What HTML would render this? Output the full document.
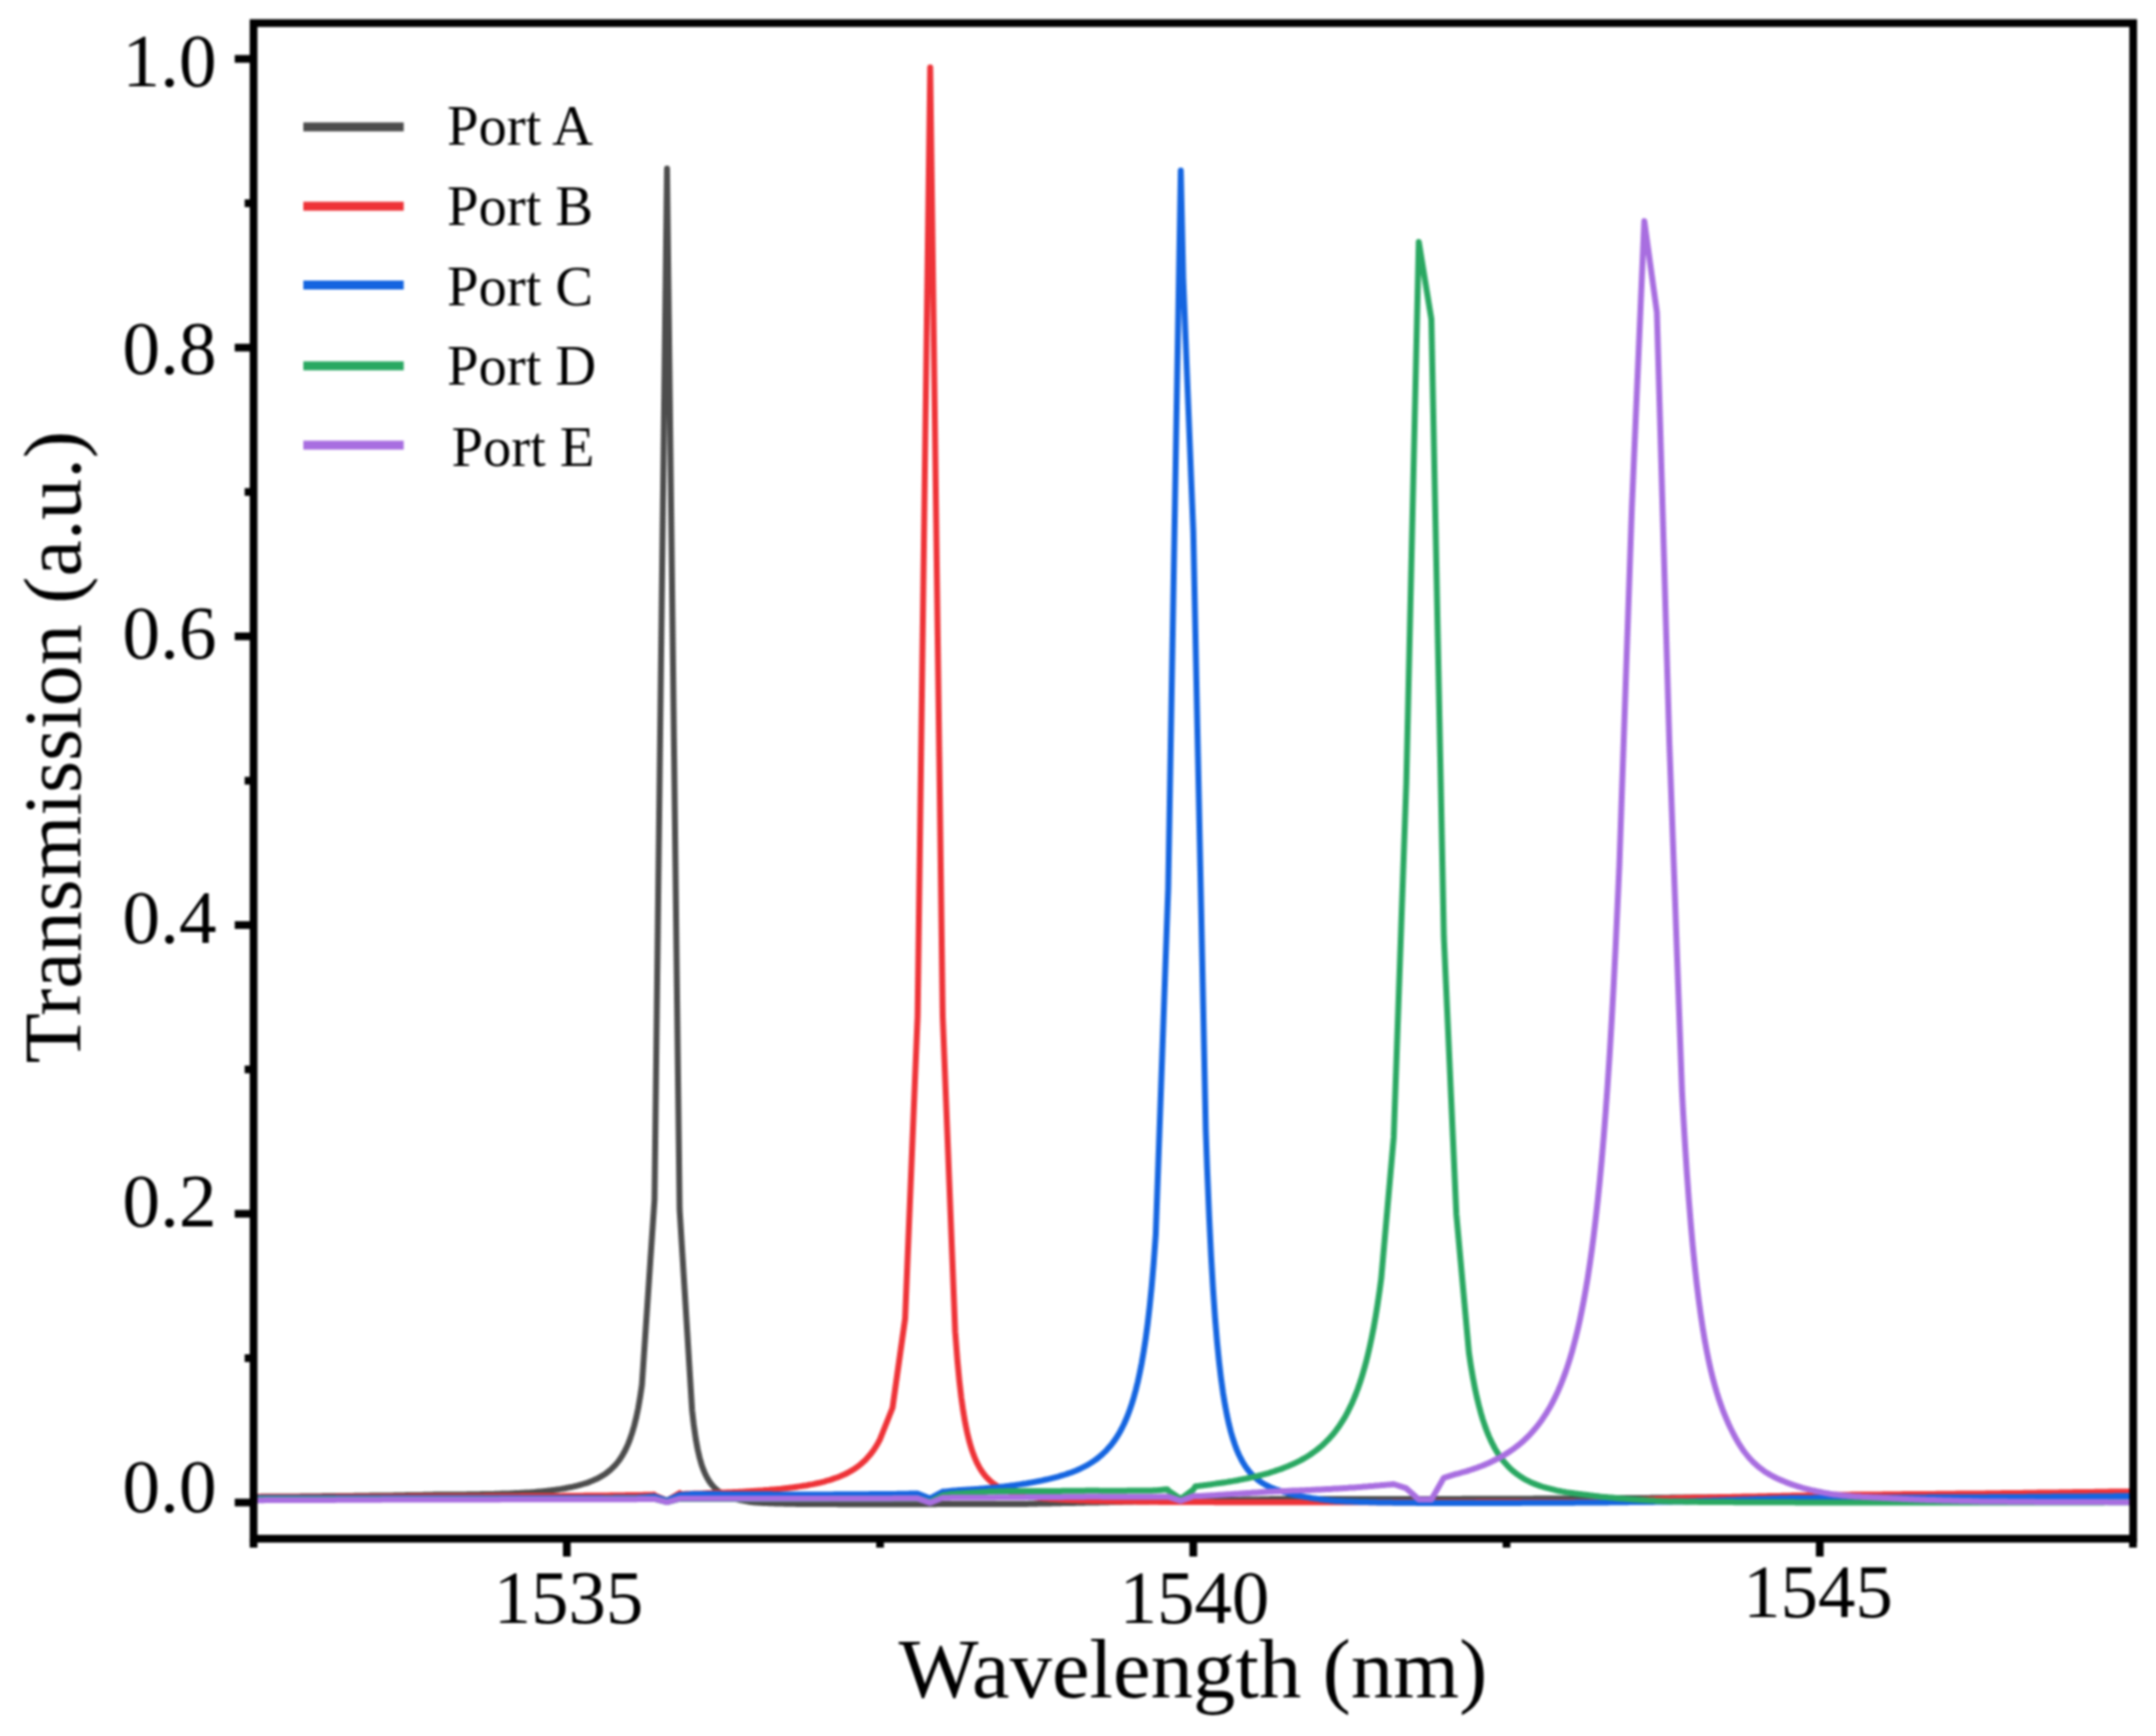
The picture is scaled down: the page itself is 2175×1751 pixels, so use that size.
<!DOCTYPE html>
<html><head><meta charset="utf-8"><style>
html,body{margin:0;padding:0;background:#fff;}
svg{display:block;}
#wrap{filter:blur(0.8px);width:2175px;height:1751px;}
text{font-family:"Liberation Serif","Times New Roman",serif;fill:#000;}
</style></head><body>
<div id="wrap"><svg width="2175" height="1751" viewBox="0 0 2175 1751" xmlns="http://www.w3.org/2000/svg">
<clipPath id="pc"><rect x="255.8" y="23.3" width="1896.2" height="1528.7"/></clipPath>
<g clip-path="url(#pc)" fill="none" stroke-width="6.0" stroke-linejoin="round" stroke-linecap="round">
<path d="M255.8,1509.7 L257.8,1509.7 L259.8,1509.7 L261.8,1509.7 L263.8,1509.6 L265.8,1509.6 L267.8,1509.6 L269.8,1509.6 L271.8,1509.6 L273.8,1509.6 L275.8,1509.6 L277.8,1509.5 L279.8,1509.5 L281.8,1509.5 L283.8,1509.5 L285.8,1509.5 L287.8,1509.5 L289.8,1509.4 L291.8,1509.4 L293.8,1509.4 L295.8,1509.4 L297.8,1509.4 L299.8,1509.4 L301.8,1509.4 L303.8,1509.3 L305.8,1509.3 L307.8,1509.3 L309.8,1509.3 L311.8,1509.3 L313.8,1509.3 L315.8,1509.2 L317.8,1509.2 L319.8,1509.2 L321.8,1509.2 L323.8,1509.2 L325.8,1509.1 L327.8,1509.1 L329.8,1509.1 L331.8,1509.1 L333.8,1509.1 L335.8,1509.1 L337.8,1509.0 L339.8,1509.0 L341.8,1509.0 L343.8,1509.0 L345.8,1509.0 L347.8,1508.9 L349.8,1508.9 L351.8,1508.9 L353.8,1508.9 L355.8,1508.9 L357.8,1508.8 L359.8,1508.8 L361.8,1508.8 L363.8,1508.8 L365.8,1508.7 L367.8,1508.7 L369.8,1508.7 L371.8,1508.7 L373.8,1508.6 L375.8,1508.6 L377.8,1508.6 L379.8,1508.6 L381.8,1508.5 L383.8,1508.5 L385.8,1508.5 L387.8,1508.5 L389.8,1508.4 L391.8,1508.4 L393.8,1508.4 L395.8,1508.4 L397.8,1508.3 L399.8,1508.3 L401.8,1508.3 L403.8,1508.2 L405.8,1508.2 L407.8,1508.2 L409.8,1508.1 L411.8,1508.1 L413.8,1508.1 L415.8,1508.1 L417.8,1508.0 L419.8,1508.0 L421.8,1507.9 L423.8,1507.9 L425.8,1507.9 L427.8,1507.8 L429.8,1507.8 L431.8,1507.8 L433.8,1507.7 L435.8,1507.7 L437.8,1507.6 L439.8,1507.6 L441.8,1507.6 L443.8,1507.6 L445.8,1507.6 L447.8,1507.6 L449.8,1507.6 L451.8,1507.5 L453.8,1507.5 L455.8,1507.5 L457.8,1507.5 L459.8,1507.5 L461.8,1507.5 L463.8,1507.4 L465.8,1507.4 L467.8,1507.4 L469.8,1507.4 L471.8,1507.3 L473.8,1507.3 L475.8,1507.3 L477.8,1507.3 L479.8,1507.2 L481.8,1507.2 L483.8,1507.2 L485.8,1507.1 L487.8,1507.1 L489.8,1507.0 L491.8,1507.0 L493.8,1507.0 L495.8,1506.9 L497.8,1506.9 L499.8,1506.8 L501.8,1506.8 L503.8,1506.7 L505.8,1506.6 L507.8,1506.6 L509.8,1506.5 L511.8,1506.4 L513.8,1506.4 L515.8,1506.3 L517.8,1506.2 L519.8,1506.1 L521.8,1506.0 L523.8,1505.9 L525.8,1505.8 L527.8,1505.7 L529.8,1505.6 L531.8,1505.5 L533.8,1505.4 L535.8,1505.3 L537.8,1505.2 L539.8,1505.0 L541.8,1504.8 L543.8,1504.6 L545.8,1504.4 L547.8,1504.2 L549.8,1504.0 L551.8,1503.8 L553.8,1503.5 L555.8,1503.3 L557.8,1503.0 L559.8,1502.8 L561.8,1502.5 L563.8,1502.2 L565.8,1501.9 L567.8,1501.5 L569.8,1501.2 L571.8,1500.8 L573.8,1500.4 L575.8,1500.0 L577.8,1499.6 L579.8,1499.1 L581.8,1498.7 L583.8,1498.2 L585.8,1497.6 L587.8,1497.0 L589.8,1496.4 L591.8,1495.8 L593.8,1495.1 L595.8,1494.3 L597.8,1493.5 L599.8,1492.6 L601.8,1491.7 L603.8,1490.7 L605.8,1489.6 L607.8,1488.4 L609.8,1487.2 L611.8,1485.8 L613.8,1484.2 L615.8,1482.6 L617.8,1480.7 L619.8,1478.7 L621.8,1476.5 L623.8,1474.0 L625.8,1471.2 L627.8,1468.1 L629.8,1464.6 L631.8,1460.6 L633.8,1456.1 L635.8,1450.9 L637.8,1444.9 L639.8,1438.0 L641.8,1430.0 L643.8,1420.5 L645.8,1409.1 L647.6,1396.7 L660.3,1210.0 L672.9,170.0 L685.6,1220.0 L698.2,1422.5 L699.8,1436.7 L701.8,1450.9 L703.8,1461.9 L705.8,1470.5 L707.8,1477.4 L709.8,1483.0 L711.8,1487.6 L713.8,1491.4 L715.8,1494.6 L717.8,1497.3 L719.8,1499.6 L721.8,1501.6 L723.8,1503.3 L725.8,1504.9 L727.8,1506.2 L729.8,1507.4 L731.8,1508.3 L733.8,1509.2 L735.8,1509.9 L737.8,1510.6 L739.8,1511.2 L741.8,1511.8 L743.8,1512.3 L745.8,1512.8 L747.8,1513.2 L749.8,1513.6 L751.8,1514.0 L753.8,1514.3 L755.8,1514.7 L757.8,1515.0 L759.8,1515.3 L761.8,1515.4 L763.8,1515.6 L765.8,1515.7 L767.8,1515.8 L769.8,1515.9 L771.8,1516.0 L773.8,1516.1 L775.8,1516.2 L777.8,1516.3 L779.8,1516.3 L781.8,1516.4 L783.8,1516.5 L785.8,1516.5 L787.8,1516.6 L789.8,1516.6 L791.8,1516.7 L793.8,1516.7 L795.8,1516.7 L797.8,1516.8 L799.8,1516.8 L801.8,1516.8 L803.8,1516.9 L805.8,1516.9 L807.8,1516.9 L809.8,1516.9 L811.8,1516.9 L813.8,1517.0 L815.8,1517.0 L817.8,1517.0 L819.8,1517.0 L821.8,1517.0 L823.8,1517.0 L825.8,1517.1 L827.8,1517.1 L829.8,1517.1 L831.8,1517.1 L833.8,1517.1 L835.8,1517.1 L837.8,1517.1 L839.8,1517.1 L841.8,1517.1 L843.8,1517.1 L845.8,1517.2 L847.8,1517.2 L849.8,1517.2 L851.8,1517.2 L853.8,1517.2 L855.8,1517.2 L857.8,1517.2 L859.8,1517.2 L861.8,1517.2 L863.8,1517.2 L865.8,1517.2 L867.8,1517.2 L869.8,1517.2 L871.8,1517.2 L873.8,1517.2 L875.8,1517.2 L877.8,1517.2 L879.8,1517.2 L881.8,1517.2 L883.8,1517.2 L885.8,1517.2 L887.8,1517.2 L889.8,1517.2 L891.8,1517.2 L893.8,1517.2 L895.8,1517.2 L897.8,1517.2 L899.8,1517.2 L901.8,1517.2 L903.8,1517.2 L905.8,1517.2 L907.8,1517.2 L909.8,1517.2 L911.8,1517.2 L913.8,1517.2 L915.8,1517.2 L917.8,1517.2 L919.8,1517.2 L921.8,1517.2 L923.8,1517.2 L925.8,1517.2 L927.8,1517.2 L929.8,1517.2 L931.8,1517.2 L933.8,1517.2 L935.8,1517.2 L937.8,1517.2 L939.8,1517.2 L941.8,1517.2 L943.8,1517.2 L945.8,1517.1 L947.8,1517.1 L949.8,1517.1 L951.8,1517.1 L953.8,1517.1 L955.8,1517.1 L957.8,1517.1 L959.8,1517.1 L961.8,1517.1 L963.8,1517.1 L965.8,1517.1 L967.8,1517.1 L969.8,1517.1 L971.8,1517.1 L973.8,1517.1 L975.8,1517.1 L977.8,1517.1 L979.8,1517.1 L981.8,1517.1 L983.8,1517.1 L985.8,1517.1 L987.8,1517.1 L989.8,1517.1 L991.8,1517.1 L993.8,1517.1 L995.8,1517.1 L997.8,1517.1 L999.8,1517.1 L1001.8,1517.1 L1003.8,1517.1 L1005.8,1517.0 L1007.8,1517.0 L1009.8,1517.0 L1011.8,1517.0 L1013.8,1517.0 L1015.8,1517.0 L1017.8,1517.0 L1019.8,1517.0 L1021.8,1517.0 L1023.8,1517.0 L1025.8,1517.0 L1027.8,1517.0 L1029.8,1517.0 L1031.8,1517.0 L1033.8,1516.9 L1035.8,1516.9 L1037.8,1516.8 L1039.8,1516.8 L1041.8,1516.8 L1043.8,1516.7 L1045.8,1516.7 L1047.8,1516.6 L1049.8,1516.6 L1051.8,1516.5 L1053.8,1516.5 L1055.8,1516.5 L1057.8,1516.4 L1059.8,1516.4 L1061.8,1516.3 L1063.8,1516.3 L1065.8,1516.3 L1067.8,1516.2 L1069.8,1516.2 L1071.8,1516.1 L1073.8,1516.1 L1075.8,1516.0 L1077.8,1516.0 L1079.8,1516.0 L1081.8,1515.9 L1083.8,1515.9 L1085.8,1515.8 L1087.8,1515.8 L1089.8,1515.8 L1091.8,1515.7 L1093.8,1515.7 L1095.8,1515.6 L1097.8,1515.6 L1099.8,1515.5 L1101.8,1515.5 L1103.8,1515.5 L1105.8,1515.4 L1107.8,1515.4 L1109.8,1515.3 L1111.8,1515.3 L1113.8,1515.3 L1115.8,1515.2 L1117.8,1515.2 L1119.8,1515.1 L1121.8,1515.1 L1123.8,1515.0 L1125.8,1515.0 L1127.8,1515.0 L1129.8,1514.9 L1131.8,1514.9 L1133.8,1514.8 L1135.8,1514.8 L1137.8,1514.8 L1139.8,1514.7 L1141.8,1514.7 L1143.8,1514.6 L1145.8,1514.6 L1147.8,1514.5 L1149.8,1514.5 L1151.8,1514.5 L1153.8,1514.4 L1155.8,1514.4 L1157.8,1514.4 L1159.8,1514.3 L1161.8,1514.3 L1163.8,1514.3 L1165.8,1514.2 L1167.8,1514.2 L1169.8,1514.1 L1171.8,1514.1 L1173.8,1514.1 L1175.8,1514.0 L1177.8,1514.0 L1179.8,1514.0 L1181.8,1513.9 L1183.8,1513.9 L1185.8,1513.9 L1187.8,1513.8 L1189.8,1513.8 L1191.8,1513.8 L1193.8,1513.7 L1195.8,1513.7 L1197.8,1513.6 L1199.8,1513.6 L1201.8,1513.6 L1203.8,1513.5 L1205.8,1513.5 L1207.8,1513.5 L1209.8,1513.4 L1211.8,1513.4 L1213.8,1513.4 L1215.8,1513.3 L1217.8,1513.3 L1219.8,1513.3 L1221.8,1513.2 L1223.8,1513.2 L1225.8,1513.1 L1227.8,1513.1 L1229.8,1513.1 L1231.8,1513.0 L1233.8,1513.0 L1235.8,1513.0 L1237.8,1512.9 L1239.8,1512.9 L1241.8,1512.9 L1243.8,1512.8 L1245.8,1512.8 L1247.8,1512.8 L1249.8,1512.7 L1251.8,1512.7 L1253.8,1512.6 L1255.8,1512.6 L1257.8,1512.6 L1259.8,1512.5 L1261.8,1512.5 L1263.8,1512.5 L1265.8,1512.4 L1267.8,1512.4 L1269.8,1512.4 L1271.8,1512.3 L1273.8,1512.3 L1275.8,1512.3 L1277.8,1512.2 L1279.8,1512.2 L1281.8,1512.1 L1283.8,1512.1 L1285.8,1512.1 L1287.8,1512.0 L1289.8,1512.0 L1291.8,1512.0 L1293.8,1512.0 L1295.8,1512.0 L1297.8,1512.0 L1299.8,1512.0 L1301.8,1512.0 L1303.8,1512.0 L1305.8,1512.0 L1307.8,1512.0 L1309.8,1512.0 L1311.8,1512.0 L1313.8,1512.0 L1315.8,1512.0 L1317.8,1512.0 L1319.8,1512.0 L1321.8,1512.0 L1323.8,1512.0 L1325.8,1512.0 L1327.8,1512.0 L1329.8,1512.0 L1331.8,1512.0 L1333.8,1512.0 L1335.8,1512.0 L1337.8,1512.0 L1339.8,1512.0 L1341.8,1512.0 L1343.8,1512.0 L1345.8,1512.0 L1347.8,1512.0 L1349.8,1512.0 L1351.8,1512.0 L1353.8,1512.0 L1355.8,1512.0 L1357.8,1512.0 L1359.8,1512.0 L1361.8,1512.0 L1363.8,1512.0 L1365.8,1512.0 L1367.8,1512.0 L1369.8,1512.0 L1371.8,1512.0 L1373.8,1512.0 L1375.8,1512.0 L1377.8,1512.0 L1379.8,1512.0 L1381.8,1512.0 L1383.8,1512.0 L1385.8,1512.0 L1387.8,1512.0 L1389.8,1512.0 L1391.8,1512.0 L1393.8,1512.0 L1395.8,1512.0 L1397.8,1512.0 L1399.8,1512.0 L1401.8,1512.0 L1403.8,1512.0 L1405.8,1512.0 L1407.8,1512.0 L1409.8,1512.0 L1411.8,1512.0 L1413.8,1512.0 L1415.8,1512.0 L1417.8,1512.0 L1419.8,1512.0 L1421.8,1512.0 L1423.8,1512.0 L1425.8,1512.0 L1427.8,1512.0 L1429.8,1512.0 L1431.8,1512.0 L1433.8,1512.0 L1435.8,1512.0 L1437.8,1512.0 L1439.8,1511.9 L1441.8,1511.9 L1443.8,1511.9 L1445.8,1511.9 L1447.8,1511.9 L1449.8,1511.9 L1451.8,1511.9 L1453.8,1511.9 L1455.8,1511.9 L1457.8,1511.9 L1459.8,1511.9 L1461.8,1511.9 L1463.8,1511.9 L1465.8,1511.9 L1467.8,1511.9 L1469.8,1511.9 L1471.8,1511.9 L1473.8,1511.9 L1475.8,1511.8 L1477.8,1511.8 L1479.8,1511.8 L1481.8,1511.8 L1483.8,1511.8 L1485.8,1511.8 L1487.8,1511.8 L1489.8,1511.8 L1491.8,1511.8 L1493.8,1511.8 L1495.8,1511.8 L1497.8,1511.8 L1499.8,1511.8 L1501.8,1511.8 L1503.8,1511.8 L1505.8,1511.8 L1507.8,1511.8 L1509.8,1511.8 L1511.8,1511.7 L1513.8,1511.7 L1515.8,1511.7 L1517.8,1511.7 L1519.8,1511.7 L1521.8,1511.7 L1523.8,1511.7 L1525.8,1511.7 L1527.8,1511.7 L1529.8,1511.7 L1531.8,1511.7 L1533.8,1511.7 L1535.8,1511.7 L1537.8,1511.7 L1539.8,1511.7 L1541.8,1511.7 L1543.8,1511.7 L1545.8,1511.7 L1547.8,1511.6 L1549.8,1511.6 L1551.8,1511.6 L1553.8,1511.6 L1555.8,1511.6 L1557.8,1511.6 L1559.8,1511.6 L1561.8,1511.6 L1563.8,1511.6 L1565.8,1511.6 L1567.8,1511.6 L1569.8,1511.6 L1571.8,1511.6 L1573.8,1511.6 L1575.8,1511.6 L1577.8,1511.6 L1579.8,1511.6 L1581.8,1511.6 L1583.8,1511.5 L1585.8,1511.5 L1587.8,1511.5 L1589.8,1511.5 L1591.8,1511.5 L1593.8,1511.5 L1595.8,1511.5 L1597.8,1511.5 L1599.8,1511.5 L1601.8,1511.5 L1603.8,1511.5 L1605.8,1511.4 L1607.8,1511.4 L1609.8,1511.4 L1611.8,1511.4 L1613.8,1511.4 L1615.8,1511.3 L1617.8,1511.3 L1619.8,1511.3 L1621.8,1511.3 L1623.8,1511.3 L1625.8,1511.2 L1627.8,1511.2 L1629.8,1511.2 L1631.8,1511.2 L1633.8,1511.2 L1635.8,1511.1 L1637.8,1511.1 L1639.8,1511.1 L1641.8,1511.1 L1643.8,1511.1 L1645.8,1511.0 L1647.8,1511.0 L1649.8,1511.0 L1651.8,1511.0 L1653.8,1511.0 L1655.8,1510.9 L1657.8,1510.9 L1659.8,1510.9 L1661.8,1510.9 L1663.8,1510.9 L1665.8,1510.8 L1667.8,1510.8 L1669.8,1510.8 L1671.8,1510.8 L1673.8,1510.8 L1675.8,1510.7 L1677.8,1510.7 L1679.8,1510.7 L1681.8,1510.7 L1683.8,1510.7 L1685.8,1510.6 L1687.8,1510.6 L1689.8,1510.6 L1691.8,1510.6 L1693.8,1510.6 L1695.8,1510.5 L1697.8,1510.5 L1699.8,1510.5 L1701.8,1510.5 L1703.8,1510.5 L1705.8,1510.5 L1707.8,1510.5 L1709.8,1510.5 L1711.8,1510.5 L1713.8,1510.5 L1715.8,1510.5 L1717.8,1510.4 L1719.8,1510.4 L1721.8,1510.4 L1723.8,1510.4 L1725.8,1510.4 L1727.8,1510.4 L1729.8,1510.4 L1731.8,1510.4 L1733.8,1510.4 L1735.8,1510.4 L1737.8,1510.4 L1739.8,1510.4 L1741.8,1510.4 L1743.8,1510.4 L1745.8,1510.4 L1747.8,1510.4 L1749.8,1510.4 L1751.8,1510.3 L1753.8,1510.3 L1755.8,1510.3 L1757.8,1510.3 L1759.8,1510.3 L1761.8,1510.3 L1763.8,1510.3 L1765.8,1510.3 L1767.8,1510.3 L1769.8,1510.3 L1771.8,1510.3 L1773.8,1510.3 L1775.8,1510.3 L1777.8,1510.3 L1779.8,1510.3 L1781.8,1510.3 L1783.8,1510.2 L1785.8,1510.2 L1787.8,1510.2 L1789.8,1510.2 L1791.8,1510.2 L1793.8,1510.2 L1795.8,1510.2 L1797.8,1510.2 L1799.8,1510.2 L1801.8,1510.2 L1803.8,1510.2 L1805.8,1510.2 L1807.8,1510.2 L1809.8,1510.2 L1811.8,1510.2 L1813.8,1510.2 L1815.8,1510.2 L1817.8,1510.1 L1819.8,1510.1 L1821.8,1510.1 L1823.8,1510.1 L1825.8,1510.1 L1827.8,1510.1 L1829.8,1510.1 L1831.8,1510.1 L1833.8,1510.1 L1835.8,1510.1 L1837.8,1510.1 L1839.8,1510.1 L1841.8,1510.1 L1843.8,1510.1 L1845.8,1510.1 L1847.8,1510.1 L1849.8,1510.1 L1851.8,1510.0 L1853.8,1510.0 L1855.8,1510.0 L1857.8,1510.0 L1859.8,1510.0 L1861.8,1510.0 L1863.8,1510.0 L1865.8,1510.0 L1867.8,1510.0 L1869.8,1510.0 L1871.8,1510.0 L1873.8,1510.0 L1875.8,1510.0 L1877.8,1510.0 L1879.8,1510.0 L1881.8,1510.0 L1883.8,1509.9 L1885.8,1509.9 L1887.8,1509.9 L1889.8,1509.9 L1891.8,1509.9 L1893.8,1509.9 L1895.8,1509.9 L1897.8,1509.9 L1899.8,1509.9 L1901.8,1509.9 L1903.8,1509.9 L1905.8,1509.9 L1907.8,1509.9 L1909.8,1509.9 L1911.8,1509.9 L1913.8,1509.9 L1915.8,1509.8 L1917.8,1509.8 L1919.8,1509.8 L1921.8,1509.8 L1923.8,1509.8 L1925.8,1509.8 L1927.8,1509.8 L1929.8,1509.8 L1931.8,1509.8 L1933.8,1509.8 L1935.8,1509.8 L1937.8,1509.8 L1939.8,1509.8 L1941.8,1509.8 L1943.8,1509.7 L1945.8,1509.7 L1947.8,1509.7 L1949.8,1509.7 L1951.8,1509.7 L1953.8,1509.7 L1955.8,1509.7 L1957.8,1509.7 L1959.8,1509.7 L1961.8,1509.7 L1963.8,1509.7 L1965.8,1509.7 L1967.8,1509.7 L1969.8,1509.7 L1971.8,1509.6 L1973.8,1509.6 L1975.8,1509.6 L1977.8,1509.6 L1979.8,1509.6 L1981.8,1509.6 L1983.8,1509.6 L1985.8,1509.6 L1987.8,1509.6 L1989.8,1509.6 L1991.8,1509.6 L1993.8,1509.6 L1995.8,1509.6 L1997.8,1509.6 L1999.8,1509.5 L2001.8,1509.5 L2003.8,1509.5 L2005.8,1509.5 L2007.8,1509.5 L2009.8,1509.5 L2011.8,1509.5 L2013.8,1509.5 L2015.8,1509.5 L2017.8,1509.5 L2019.8,1509.5 L2021.8,1509.5 L2023.8,1509.5 L2025.8,1509.5 L2027.8,1509.4 L2029.8,1509.4 L2031.8,1509.4 L2033.8,1509.4 L2035.8,1509.4 L2037.8,1509.4 L2039.8,1509.4 L2041.8,1509.4 L2043.8,1509.4 L2045.8,1509.4 L2047.8,1509.4 L2049.8,1509.4 L2051.8,1509.4 L2053.8,1509.4 L2055.8,1509.3 L2057.8,1509.3 L2059.8,1509.3 L2061.8,1509.3 L2063.8,1509.3 L2065.8,1509.3 L2067.8,1509.3 L2069.8,1509.3 L2071.8,1509.3 L2073.8,1509.3 L2075.8,1509.3 L2077.8,1509.3 L2079.8,1509.3 L2081.8,1509.3 L2083.8,1509.2 L2085.8,1509.2 L2087.8,1509.2 L2089.8,1509.2 L2091.8,1509.2 L2093.8,1509.2 L2095.8,1509.2 L2097.8,1509.2 L2099.8,1509.2 L2101.8,1509.2 L2103.8,1509.2 L2105.8,1509.2 L2107.8,1509.2 L2109.8,1509.2 L2111.8,1509.1 L2113.8,1509.1 L2115.8,1509.1 L2117.8,1509.1 L2119.8,1509.1 L2121.8,1509.1 L2123.8,1509.1 L2125.8,1509.1 L2127.8,1509.1 L2129.8,1509.1 L2131.8,1509.1 L2133.8,1509.1 L2135.8,1509.1 L2137.8,1509.1 L2139.8,1509.0 L2141.8,1509.0 L2143.8,1509.0 L2145.8,1509.0 L2147.8,1509.0 L2149.8,1509.0 L2151.8,1509.0" stroke="#4d4d4d"/>
<path d="M255.8,1510.0 L257.8,1510.0 L259.8,1510.0 L261.8,1510.0 L263.8,1510.0 L265.8,1510.0 L267.8,1510.0 L269.8,1510.0 L271.8,1510.0 L273.8,1510.0 L275.8,1510.0 L277.8,1510.0 L279.8,1510.0 L281.8,1510.0 L283.8,1510.0 L285.8,1510.0 L287.8,1509.9 L289.8,1509.9 L291.8,1509.9 L293.8,1509.9 L295.8,1509.9 L297.8,1509.9 L299.8,1509.9 L301.8,1509.9 L303.8,1509.9 L305.8,1509.9 L307.8,1509.9 L309.8,1509.9 L311.8,1509.9 L313.8,1509.9 L315.8,1509.9 L317.8,1509.9 L319.8,1509.9 L321.8,1509.9 L323.8,1509.9 L325.8,1509.9 L327.8,1509.9 L329.8,1509.9 L331.8,1509.9 L333.8,1509.9 L335.8,1509.9 L337.8,1509.9 L339.8,1509.8 L341.8,1509.8 L343.8,1509.8 L345.8,1509.8 L347.8,1509.8 L349.8,1509.8 L351.8,1509.8 L353.8,1509.8 L355.8,1509.8 L357.8,1509.8 L359.8,1509.8 L361.8,1509.8 L363.8,1509.8 L365.8,1509.8 L367.8,1509.8 L369.8,1509.8 L371.8,1509.8 L373.8,1509.8 L375.8,1509.8 L377.8,1509.8 L379.8,1509.7 L381.8,1509.7 L383.8,1509.7 L385.8,1509.7 L387.8,1509.7 L389.8,1509.7 L391.8,1509.7 L393.8,1509.7 L395.8,1509.7 L397.8,1509.7 L399.8,1509.7 L401.8,1509.7 L403.8,1509.7 L405.8,1509.7 L407.8,1509.7 L409.8,1509.7 L411.8,1509.7 L413.8,1509.6 L415.8,1509.6 L417.8,1509.6 L419.8,1509.6 L421.8,1509.6 L423.8,1509.6 L425.8,1509.6 L427.8,1509.6 L429.8,1509.6 L431.8,1509.6 L433.8,1509.6 L435.8,1509.6 L437.8,1509.6 L439.8,1509.6 L441.8,1509.6 L443.8,1509.5 L445.8,1509.5 L447.8,1509.5 L449.8,1509.5 L451.8,1509.5 L453.8,1509.5 L455.8,1509.5 L457.8,1509.5 L459.8,1509.5 L461.8,1509.5 L463.8,1509.5 L465.8,1509.5 L467.8,1509.4 L469.8,1509.4 L471.8,1509.4 L473.8,1509.4 L475.8,1509.4 L477.8,1509.4 L479.8,1509.4 L481.8,1509.4 L483.8,1509.4 L485.8,1509.4 L487.8,1509.4 L489.8,1509.3 L491.8,1509.3 L493.8,1509.3 L495.8,1509.3 L497.8,1509.3 L499.8,1509.3 L501.8,1509.3 L503.8,1509.3 L505.8,1509.3 L507.8,1509.3 L509.8,1509.2 L511.8,1509.2 L513.8,1509.2 L515.8,1509.2 L517.8,1509.2 L519.8,1509.2 L521.8,1509.2 L523.8,1509.2 L525.8,1509.1 L527.8,1509.1 L529.8,1509.1 L531.8,1509.1 L533.8,1509.1 L535.8,1509.1 L537.8,1509.1 L539.8,1509.1 L541.8,1509.0 L543.8,1509.0 L545.8,1509.0 L547.8,1509.0 L549.8,1509.0 L551.8,1509.0 L553.8,1508.9 L555.8,1508.9 L557.8,1508.9 L559.8,1508.9 L561.8,1508.9 L563.8,1508.9 L565.8,1508.9 L567.8,1508.8 L569.8,1508.8 L571.8,1508.8 L573.8,1508.8 L575.8,1508.8 L577.8,1508.7 L579.8,1508.7 L581.8,1508.7 L583.8,1508.7 L585.8,1508.7 L587.8,1508.7 L589.8,1508.6 L591.8,1508.6 L593.8,1508.6 L595.8,1508.6 L597.8,1508.5 L599.8,1508.5 L601.8,1508.5 L603.8,1508.5 L605.8,1508.5 L607.8,1508.4 L609.8,1508.4 L611.8,1508.4 L613.8,1508.4 L615.8,1508.3 L617.8,1508.3 L619.8,1508.3 L621.8,1508.3 L623.8,1508.2 L625.8,1508.2 L627.8,1508.2 L629.8,1508.2 L631.8,1508.1 L633.8,1508.1 L635.8,1508.1 L637.8,1508.0 L639.8,1508.0 L641.8,1508.0 L643.8,1507.9 L645.8,1507.9 L647.8,1507.9 L649.8,1507.8 L651.8,1507.8 L653.8,1507.7 L655.8,1507.7 L657.8,1507.7 L659.8,1507.6 L660.3,1508.3 L672.9,1513.5 L685.6,1506.0 L685.8,1507.0 L687.8,1507.0 L689.8,1506.9 L691.8,1506.8 L693.8,1506.8 L695.8,1506.7 L697.8,1506.7 L699.8,1506.6 L701.8,1506.5 L703.8,1506.5 L705.8,1506.4 L707.8,1506.4 L709.8,1506.3 L711.8,1506.2 L713.8,1506.1 L715.8,1506.1 L717.8,1506.0 L719.8,1505.9 L721.8,1505.8 L723.8,1505.8 L725.8,1505.7 L727.8,1505.6 L729.8,1505.5 L731.8,1505.4 L733.8,1505.3 L735.8,1505.3 L737.8,1505.2 L739.8,1505.1 L741.8,1505.0 L743.8,1504.9 L745.8,1504.8 L747.8,1504.7 L749.8,1504.6 L751.8,1504.4 L753.8,1504.3 L755.8,1504.2 L757.8,1504.1 L759.8,1504.0 L761.8,1503.8 L763.8,1503.7 L765.8,1503.5 L767.8,1503.4 L769.8,1503.3 L771.8,1503.1 L773.8,1502.9 L775.8,1502.8 L777.8,1502.6 L779.8,1502.4 L781.8,1502.2 L783.8,1502.1 L785.8,1501.9 L787.8,1501.7 L789.8,1501.4 L791.8,1501.2 L793.8,1501.0 L795.8,1500.8 L797.8,1500.5 L799.8,1500.3 L801.8,1500.0 L803.8,1499.7 L805.8,1499.4 L807.8,1499.1 L809.8,1498.8 L811.8,1498.5 L813.8,1498.2 L815.8,1497.8 L817.8,1497.4 L819.8,1497.1 L821.8,1496.6 L823.8,1496.2 L825.8,1495.8 L827.8,1495.3 L829.8,1494.8 L831.8,1494.3 L833.8,1493.7 L835.8,1493.2 L837.8,1492.6 L839.8,1491.9 L841.8,1491.2 L843.8,1490.5 L845.8,1489.8 L847.8,1489.0 L849.8,1488.1 L851.8,1487.2 L853.8,1486.2 L855.8,1485.2 L857.8,1484.1 L859.8,1482.9 L861.8,1481.7 L863.8,1480.3 L865.8,1478.8 L867.8,1477.3 L869.8,1475.6 L871.8,1473.8 L873.8,1471.8 L875.8,1469.6 L877.8,1467.3 L879.8,1464.7 L881.8,1461.9 L883.8,1458.8 L885.8,1455.4 L887.8,1451.7 L900.4,1420.0 L913.1,1330.0 L925.7,1025.0 L938.4,68.0 L951.0,1025.0 L963.6,1343.2 L963.8,1345.6 L965.8,1371.8 L967.8,1392.9 L969.8,1410.1 L971.8,1424.1 L973.8,1435.7 L975.8,1445.4 L977.8,1453.6 L979.8,1460.5 L981.8,1466.4 L983.8,1471.5 L985.8,1475.9 L987.8,1479.7 L989.8,1483.0 L991.8,1485.9 L993.8,1488.5 L995.8,1490.7 L997.8,1492.7 L999.8,1494.5 L1001.8,1496.1 L1003.8,1497.5 L1005.8,1498.8 L1007.8,1500.0 L1009.8,1501.1 L1011.8,1502.0 L1013.8,1502.9 L1015.8,1503.7 L1017.8,1504.5 L1019.8,1505.1 L1021.8,1505.8 L1023.8,1506.4 L1025.8,1506.9 L1027.8,1507.4 L1029.8,1507.9 L1031.8,1508.3 L1033.8,1508.7 L1035.8,1509.1 L1037.8,1509.4 L1039.8,1509.7 L1041.8,1510.0 L1043.8,1510.3 L1045.8,1510.5 L1047.8,1510.8 L1049.8,1511.0 L1051.8,1511.2 L1053.8,1511.4 L1055.8,1511.6 L1057.8,1511.7 L1059.8,1511.9 L1061.8,1512.0 L1063.8,1512.2 L1065.8,1512.3 L1067.8,1512.4 L1069.8,1512.6 L1071.8,1512.7 L1073.8,1512.8 L1075.8,1512.9 L1077.8,1513.0 L1079.8,1513.1 L1081.8,1513.2 L1083.8,1513.3 L1085.8,1513.3 L1087.8,1513.4 L1089.8,1513.5 L1091.8,1513.6 L1093.8,1513.6 L1095.8,1513.7 L1097.8,1513.7 L1099.8,1513.8 L1101.8,1513.9 L1103.8,1513.9 L1105.8,1514.0 L1107.8,1514.0 L1109.8,1514.1 L1111.8,1514.1 L1113.8,1514.1 L1115.8,1514.2 L1117.8,1514.2 L1119.8,1514.3 L1121.8,1514.3 L1123.8,1514.3 L1125.8,1514.4 L1127.8,1514.4 L1129.8,1514.4 L1131.8,1514.5 L1133.8,1514.5 L1135.8,1514.5 L1137.8,1514.5 L1139.8,1514.6 L1141.8,1514.6 L1143.8,1514.6 L1145.8,1514.6 L1147.8,1514.7 L1149.8,1514.7 L1151.8,1514.7 L1153.8,1514.7 L1155.8,1514.7 L1157.8,1514.8 L1159.8,1514.8 L1161.8,1514.8 L1163.8,1514.8 L1165.8,1514.8 L1167.8,1514.8 L1169.8,1514.9 L1171.8,1514.9 L1173.8,1514.9 L1175.8,1514.9 L1177.8,1514.9 L1179.8,1514.9 L1181.8,1514.9 L1183.8,1515.0 L1185.8,1515.0 L1187.8,1515.0 L1189.8,1515.0 L1191.8,1515.0 L1193.8,1515.0 L1195.8,1515.0 L1197.8,1515.0 L1199.8,1515.0 L1201.8,1515.1 L1203.8,1515.1 L1205.8,1515.1 L1207.8,1515.1 L1209.8,1515.1 L1211.8,1515.1 L1213.8,1515.1 L1215.8,1515.1 L1217.8,1515.1 L1219.8,1515.1 L1221.8,1515.1 L1223.8,1515.1 L1225.8,1515.2 L1227.8,1515.2 L1229.8,1515.2 L1231.8,1515.2 L1233.8,1515.2 L1235.8,1515.2 L1237.8,1515.2 L1239.8,1515.2 L1241.8,1515.2 L1243.8,1515.2 L1245.8,1515.2 L1247.8,1515.2 L1249.8,1515.2 L1251.8,1515.2 L1253.8,1515.2 L1255.8,1515.2 L1257.8,1515.2 L1259.8,1515.2 L1261.8,1515.2 L1263.8,1515.2 L1265.8,1515.2 L1267.8,1515.3 L1269.8,1515.3 L1271.8,1515.3 L1273.8,1515.3 L1275.8,1515.3 L1277.8,1515.3 L1279.8,1515.3 L1281.8,1515.3 L1283.8,1515.3 L1285.8,1515.3 L1287.8,1515.3 L1289.8,1515.3 L1291.8,1515.3 L1293.8,1515.3 L1295.8,1515.3 L1297.8,1515.3 L1299.8,1515.3 L1301.8,1515.3 L1303.8,1515.3 L1305.8,1515.3 L1307.8,1515.3 L1309.8,1515.3 L1311.8,1515.3 L1313.8,1515.3 L1315.8,1515.3 L1317.8,1515.3 L1319.8,1515.3 L1321.8,1515.3 L1323.8,1515.3 L1325.8,1515.3 L1327.8,1515.3 L1329.8,1515.3 L1331.8,1515.3 L1333.8,1515.3 L1335.8,1515.3 L1337.8,1515.3 L1339.8,1515.3 L1341.8,1515.3 L1343.8,1515.3 L1345.8,1515.3 L1347.8,1515.3 L1349.8,1515.3 L1351.8,1515.3 L1353.8,1515.3 L1355.8,1515.3 L1357.8,1515.3 L1359.8,1515.3 L1361.8,1515.3 L1363.8,1515.3 L1365.8,1515.3 L1367.8,1515.3 L1369.8,1515.3 L1371.8,1515.3 L1373.8,1515.3 L1375.8,1515.3 L1377.8,1515.3 L1379.8,1515.3 L1381.8,1515.3 L1383.8,1515.3 L1385.8,1515.3 L1387.8,1515.3 L1389.8,1515.3 L1391.8,1515.3 L1393.8,1515.3 L1395.8,1515.3 L1397.8,1515.3 L1399.8,1515.2 L1401.8,1515.2 L1403.8,1515.2 L1405.8,1515.2 L1407.8,1515.2 L1409.8,1515.2 L1411.8,1515.2 L1413.8,1515.2 L1415.8,1515.2 L1417.8,1515.2 L1419.8,1515.2 L1421.8,1515.2 L1423.8,1515.2 L1425.8,1515.2 L1427.8,1515.2 L1429.8,1515.2 L1431.8,1515.2 L1433.8,1515.2 L1435.8,1515.2 L1437.8,1515.2 L1439.8,1515.2 L1441.8,1515.2 L1443.8,1515.2 L1445.8,1515.2 L1447.8,1515.2 L1449.8,1515.2 L1451.8,1515.2 L1453.8,1515.2 L1455.8,1515.2 L1457.8,1515.2 L1459.8,1515.2 L1461.8,1515.2 L1463.8,1515.2 L1465.8,1515.2 L1467.8,1515.2 L1469.8,1515.2 L1471.8,1515.2 L1473.8,1515.2 L1475.8,1515.2 L1477.8,1515.2 L1479.8,1515.2 L1481.8,1515.2 L1483.8,1515.2 L1485.8,1515.2 L1487.8,1515.2 L1489.8,1515.1 L1491.8,1515.1 L1493.8,1515.1 L1495.8,1515.1 L1497.8,1515.1 L1499.8,1515.1 L1501.8,1515.1 L1503.8,1515.1 L1505.8,1515.1 L1507.8,1515.1 L1509.8,1515.1 L1511.8,1515.1 L1513.8,1515.1 L1515.8,1515.1 L1517.8,1515.1 L1519.8,1515.1 L1521.8,1515.1 L1523.8,1515.1 L1525.8,1515.1 L1527.8,1515.1 L1529.8,1515.1 L1531.8,1515.1 L1533.8,1515.1 L1535.8,1515.1 L1537.8,1515.1 L1539.8,1515.1 L1541.8,1515.1 L1543.8,1515.1 L1545.8,1515.1 L1547.8,1515.1 L1549.8,1515.1 L1551.8,1515.1 L1553.8,1515.1 L1555.8,1515.1 L1557.8,1515.1 L1559.8,1515.1 L1561.8,1515.1 L1563.8,1515.1 L1565.8,1515.0 L1567.8,1515.0 L1569.8,1515.0 L1571.8,1515.0 L1573.8,1515.0 L1575.8,1515.0 L1577.8,1515.0 L1579.8,1515.0 L1581.8,1515.0 L1583.8,1515.0 L1585.8,1515.0 L1587.8,1515.0 L1589.8,1515.0 L1591.8,1515.0 L1593.8,1515.0 L1595.8,1515.0 L1597.8,1515.0 L1599.8,1515.0 L1601.8,1514.9 L1603.8,1514.8 L1605.8,1514.8 L1607.8,1514.7 L1609.8,1514.6 L1611.8,1514.5 L1613.8,1514.4 L1615.8,1514.3 L1617.8,1514.3 L1619.8,1514.2 L1621.8,1514.1 L1623.8,1514.0 L1625.8,1513.9 L1627.8,1513.8 L1629.8,1513.7 L1631.8,1513.7 L1633.8,1513.6 L1635.8,1513.5 L1637.8,1513.4 L1639.8,1513.3 L1641.8,1513.2 L1643.8,1513.2 L1645.8,1513.1 L1647.8,1513.0 L1649.8,1512.9 L1651.8,1512.8 L1653.8,1512.7 L1655.8,1512.7 L1657.8,1512.6 L1659.8,1512.5 L1661.8,1512.4 L1663.8,1512.3 L1665.8,1512.2 L1667.8,1512.2 L1669.8,1512.1 L1671.8,1512.0 L1673.8,1511.9 L1675.8,1511.8 L1677.8,1511.7 L1679.8,1511.6 L1681.8,1511.6 L1683.8,1511.5 L1685.8,1511.4 L1687.8,1511.3 L1689.8,1511.2 L1691.8,1511.1 L1693.8,1511.1 L1695.8,1511.0 L1697.8,1510.9 L1699.8,1510.8 L1701.8,1510.8 L1703.8,1510.7 L1705.8,1510.7 L1707.8,1510.6 L1709.8,1510.6 L1711.8,1510.6 L1713.8,1510.5 L1715.8,1510.5 L1717.8,1510.4 L1719.8,1510.4 L1721.8,1510.4 L1723.8,1510.3 L1725.8,1510.3 L1727.8,1510.2 L1729.8,1510.2 L1731.8,1510.2 L1733.8,1510.1 L1735.8,1510.1 L1737.8,1510.0 L1739.8,1510.0 L1741.8,1510.0 L1743.8,1509.9 L1745.8,1509.9 L1747.8,1509.8 L1749.8,1509.8 L1751.8,1509.8 L1753.8,1509.7 L1755.8,1509.7 L1757.8,1509.6 L1759.8,1509.6 L1761.8,1509.6 L1763.8,1509.5 L1765.8,1509.5 L1767.8,1509.4 L1769.8,1509.4 L1771.8,1509.4 L1773.8,1509.3 L1775.8,1509.3 L1777.8,1509.2 L1779.8,1509.2 L1781.8,1509.2 L1783.8,1509.1 L1785.8,1509.1 L1787.8,1509.0 L1789.8,1509.0 L1791.8,1509.0 L1793.8,1508.9 L1795.8,1508.9 L1797.8,1508.8 L1799.8,1508.8 L1801.8,1508.8 L1803.8,1508.7 L1805.8,1508.7 L1807.8,1508.6 L1809.8,1508.6 L1811.8,1508.6 L1813.8,1508.5 L1815.8,1508.5 L1817.8,1508.4 L1819.8,1508.4 L1821.8,1508.4 L1823.8,1508.3 L1825.8,1508.3 L1827.8,1508.2 L1829.8,1508.2 L1831.8,1508.2 L1833.8,1508.1 L1835.8,1508.1 L1837.8,1508.0 L1839.8,1508.0 L1841.8,1508.0 L1843.8,1507.9 L1845.8,1507.9 L1847.8,1507.8 L1849.8,1507.8 L1851.8,1507.8 L1853.8,1507.8 L1855.8,1507.7 L1857.8,1507.7 L1859.8,1507.7 L1861.8,1507.7 L1863.8,1507.7 L1865.8,1507.7 L1867.8,1507.6 L1869.8,1507.6 L1871.8,1507.6 L1873.8,1507.6 L1875.8,1507.6 L1877.8,1507.5 L1879.8,1507.5 L1881.8,1507.5 L1883.8,1507.5 L1885.8,1507.5 L1887.8,1507.4 L1889.8,1507.4 L1891.8,1507.4 L1893.8,1507.4 L1895.8,1507.4 L1897.8,1507.4 L1899.8,1507.3 L1901.8,1507.3 L1903.8,1507.3 L1905.8,1507.3 L1907.8,1507.3 L1909.8,1507.2 L1911.8,1507.2 L1913.8,1507.2 L1915.8,1507.2 L1917.8,1507.2 L1919.8,1507.1 L1921.8,1507.1 L1923.8,1507.1 L1925.8,1507.1 L1927.8,1507.1 L1929.8,1507.1 L1931.8,1507.0 L1933.8,1507.0 L1935.8,1507.0 L1937.8,1507.0 L1939.8,1507.0 L1941.8,1506.9 L1943.8,1506.9 L1945.8,1506.9 L1947.8,1506.9 L1949.8,1506.9 L1951.8,1506.9 L1953.8,1506.8 L1955.8,1506.8 L1957.8,1506.8 L1959.8,1506.8 L1961.8,1506.8 L1963.8,1506.7 L1965.8,1506.7 L1967.8,1506.7 L1969.8,1506.7 L1971.8,1506.7 L1973.8,1506.6 L1975.8,1506.6 L1977.8,1506.6 L1979.8,1506.6 L1981.8,1506.6 L1983.8,1506.6 L1985.8,1506.5 L1987.8,1506.5 L1989.8,1506.5 L1991.8,1506.5 L1993.8,1506.5 L1995.8,1506.4 L1997.8,1506.4 L1999.8,1506.4 L2001.8,1506.4 L2003.8,1506.3 L2005.8,1506.3 L2007.8,1506.3 L2009.8,1506.3 L2011.8,1506.2 L2013.8,1506.2 L2015.8,1506.2 L2017.8,1506.2 L2019.8,1506.1 L2021.8,1506.1 L2023.8,1506.1 L2025.8,1506.0 L2027.8,1506.0 L2029.8,1506.0 L2031.8,1506.0 L2033.8,1505.9 L2035.8,1505.9 L2037.8,1505.9 L2039.8,1505.9 L2041.8,1505.8 L2043.8,1505.8 L2045.8,1505.8 L2047.8,1505.7 L2049.8,1505.7 L2051.8,1505.7 L2053.8,1505.7 L2055.8,1505.6 L2057.8,1505.6 L2059.8,1505.6 L2061.8,1505.5 L2063.8,1505.5 L2065.8,1505.5 L2067.8,1505.5 L2069.8,1505.4 L2071.8,1505.4 L2073.8,1505.4 L2075.8,1505.4 L2077.8,1505.3 L2079.8,1505.3 L2081.8,1505.3 L2083.8,1505.2 L2085.8,1505.2 L2087.8,1505.2 L2089.8,1505.2 L2091.8,1505.1 L2093.8,1505.1 L2095.8,1505.1 L2097.8,1505.0 L2099.8,1505.0 L2101.8,1505.0 L2103.8,1505.0 L2105.8,1504.9 L2107.8,1504.9 L2109.8,1504.9 L2111.8,1504.9 L2113.8,1504.8 L2115.8,1504.8 L2117.8,1504.8 L2119.8,1504.7 L2121.8,1504.7 L2123.8,1504.7 L2125.8,1504.7 L2127.8,1504.6 L2129.8,1504.6 L2131.8,1504.6 L2133.8,1504.6 L2135.8,1504.5 L2137.8,1504.5 L2139.8,1504.5 L2141.8,1504.4 L2143.8,1504.4 L2145.8,1504.4 L2147.8,1504.4 L2149.8,1504.3 L2151.8,1504.3" stroke="#ee3338"/>
<path d="M255.8,1511.0 L257.8,1511.0 L259.8,1511.0 L261.8,1511.0 L263.8,1511.0 L265.8,1511.0 L267.8,1511.0 L269.8,1511.0 L271.8,1511.0 L273.8,1511.0 L275.8,1511.0 L277.8,1511.0 L279.8,1511.0 L281.8,1511.0 L283.8,1511.0 L285.8,1511.0 L287.8,1511.0 L289.8,1511.0 L291.8,1511.0 L293.8,1511.0 L295.8,1511.0 L297.8,1511.0 L299.8,1511.0 L301.8,1511.0 L303.8,1511.0 L305.8,1511.0 L307.8,1511.0 L309.8,1511.0 L311.8,1511.0 L313.8,1511.0 L315.8,1511.0 L317.8,1511.0 L319.8,1511.0 L321.8,1511.0 L323.8,1511.0 L325.8,1511.0 L327.8,1511.0 L329.8,1511.0 L331.8,1511.0 L333.8,1511.0 L335.8,1511.0 L337.8,1511.0 L339.8,1511.0 L341.8,1511.0 L343.8,1511.0 L345.8,1511.0 L347.8,1511.0 L349.8,1511.0 L351.8,1511.0 L353.8,1511.0 L355.8,1511.0 L357.8,1511.0 L359.8,1511.0 L361.8,1511.0 L363.8,1511.0 L365.8,1511.0 L367.8,1511.0 L369.8,1511.0 L371.8,1511.0 L373.8,1511.0 L375.8,1511.0 L377.8,1511.0 L379.8,1511.0 L381.8,1511.0 L383.8,1511.0 L385.8,1511.0 L387.8,1511.0 L389.8,1511.0 L391.8,1511.0 L393.8,1511.0 L395.8,1511.0 L397.8,1511.0 L399.8,1511.0 L401.8,1511.0 L403.8,1511.0 L405.8,1511.0 L407.8,1511.0 L409.8,1511.0 L411.8,1511.0 L413.8,1511.0 L415.8,1511.0 L417.8,1511.0 L419.8,1511.0 L421.8,1511.0 L423.8,1511.0 L425.8,1511.0 L427.8,1511.0 L429.8,1511.0 L431.8,1511.0 L433.8,1511.0 L435.8,1511.0 L437.8,1511.0 L439.8,1511.0 L441.8,1511.0 L443.8,1511.0 L445.8,1511.0 L447.8,1511.0 L449.8,1511.0 L451.8,1511.0 L453.8,1511.0 L455.8,1511.0 L457.8,1511.0 L459.8,1511.0 L461.8,1511.0 L463.8,1511.0 L465.8,1511.0 L467.8,1511.0 L469.8,1511.0 L471.8,1511.0 L473.8,1511.0 L475.8,1511.0 L477.8,1511.0 L479.8,1511.0 L481.8,1511.0 L483.8,1511.0 L485.8,1511.0 L487.8,1511.0 L489.8,1511.0 L491.8,1511.0 L493.8,1511.0 L495.8,1511.0 L497.8,1511.0 L499.8,1511.0 L501.8,1511.0 L503.8,1511.0 L505.8,1511.0 L507.8,1511.0 L509.8,1511.0 L511.8,1511.0 L513.8,1511.0 L515.8,1511.0 L517.8,1511.0 L519.8,1511.0 L521.8,1511.0 L523.8,1511.0 L525.8,1511.0 L527.8,1511.0 L529.8,1511.0 L531.8,1511.0 L533.8,1511.0 L535.8,1511.0 L537.8,1511.0 L539.8,1511.0 L541.8,1511.0 L543.8,1511.0 L545.8,1511.0 L547.8,1511.0 L549.8,1511.0 L551.8,1511.0 L553.8,1511.0 L555.8,1511.0 L557.8,1511.0 L559.8,1511.0 L561.8,1511.0 L563.8,1510.9 L565.8,1510.9 L567.8,1510.9 L569.8,1510.9 L571.8,1510.9 L573.8,1510.9 L575.8,1510.9 L577.8,1510.9 L579.8,1510.9 L581.8,1510.9 L583.8,1510.9 L585.8,1510.9 L587.8,1510.9 L589.8,1510.9 L591.8,1510.9 L593.8,1510.9 L595.8,1510.9 L597.8,1510.9 L599.8,1510.9 L601.8,1510.9 L603.8,1510.9 L605.8,1510.9 L607.8,1510.9 L609.8,1510.9 L611.8,1510.9 L613.8,1510.9 L615.8,1510.9 L617.8,1510.9 L619.8,1510.8 L621.8,1510.8 L623.8,1510.8 L625.8,1510.8 L627.8,1510.8 L629.8,1510.8 L631.8,1510.8 L633.8,1510.8 L635.8,1510.8 L637.8,1510.8 L639.8,1510.8 L641.8,1510.7 L643.8,1510.6 L645.8,1510.4 L647.8,1510.3 L649.8,1510.2 L651.8,1510.1 L653.8,1509.9 L655.8,1509.8 L657.8,1509.7 L659.8,1509.6 L660.3,1509.5 L672.9,1513.5 L685.6,1507.9 L685.8,1507.9 L687.8,1507.8 L689.8,1507.7 L691.8,1507.5 L693.8,1507.4 L695.8,1507.3 L697.8,1507.1 L699.8,1507.0 L701.8,1507.0 L703.8,1507.0 L705.8,1507.0 L707.8,1507.0 L709.8,1507.1 L711.8,1507.1 L713.8,1507.1 L715.8,1507.1 L717.8,1507.1 L719.8,1507.1 L721.8,1507.1 L723.8,1507.1 L725.8,1507.1 L727.8,1507.2 L729.8,1507.2 L731.8,1507.2 L733.8,1507.2 L735.8,1507.2 L737.8,1507.2 L739.8,1507.2 L741.8,1507.2 L743.8,1507.2 L745.8,1507.2 L747.8,1507.2 L749.8,1507.3 L751.8,1507.3 L753.8,1507.3 L755.8,1507.3 L757.8,1507.3 L759.8,1507.3 L761.8,1507.3 L763.8,1507.3 L765.8,1507.3 L767.8,1507.3 L769.8,1507.3 L771.8,1507.3 L773.8,1507.3 L775.8,1507.3 L777.8,1507.3 L779.8,1507.4 L781.8,1507.4 L783.8,1507.4 L785.8,1507.4 L787.8,1507.4 L789.8,1507.4 L791.8,1507.4 L793.8,1507.4 L795.8,1507.4 L797.8,1507.4 L799.8,1507.4 L801.8,1507.4 L803.8,1507.4 L805.8,1507.4 L807.8,1507.4 L809.8,1507.4 L811.8,1507.4 L813.8,1507.4 L815.8,1507.4 L817.8,1507.4 L819.8,1507.4 L821.8,1507.4 L823.8,1507.4 L825.8,1507.4 L827.8,1507.4 L829.8,1507.4 L831.8,1507.4 L833.8,1507.4 L835.8,1507.4 L837.8,1507.4 L839.8,1507.4 L841.8,1507.3 L843.8,1507.3 L845.8,1507.3 L847.8,1507.3 L849.8,1507.3 L851.8,1507.3 L853.8,1507.3 L855.8,1507.3 L857.8,1507.3 L859.8,1507.3 L861.8,1507.3 L863.8,1507.2 L865.8,1507.2 L867.8,1507.2 L869.8,1507.2 L871.8,1507.2 L873.8,1507.2 L875.8,1507.2 L877.8,1507.1 L879.8,1507.1 L881.8,1507.1 L883.8,1507.1 L885.8,1507.1 L887.8,1507.1 L889.8,1507.0 L891.8,1507.0 L893.8,1507.0 L895.8,1507.0 L897.8,1506.9 L899.8,1506.9 L901.8,1506.9 L903.8,1506.9 L905.8,1506.8 L907.8,1506.8 L909.8,1506.8 L911.8,1506.7 L913.8,1506.7 L915.8,1506.7 L917.8,1506.6 L919.8,1506.6 L921.8,1506.6 L923.8,1506.5 L925.7,1506.5 L938.4,1511.5 L951.0,1504.6 L951.8,1504.5 L953.8,1504.4 L955.8,1504.2 L957.8,1504.0 L959.8,1503.8 L961.8,1503.6 L963.8,1503.4 L965.8,1503.2 L967.8,1503.0 L969.8,1502.9 L971.8,1502.8 L973.8,1502.7 L975.8,1502.5 L977.8,1502.4 L979.8,1502.3 L981.8,1502.2 L983.8,1502.0 L985.8,1501.9 L987.8,1501.7 L989.8,1501.6 L991.8,1501.5 L993.8,1501.3 L995.8,1501.1 L997.8,1501.0 L999.8,1500.8 L1001.8,1500.6 L1003.8,1500.4 L1005.8,1500.2 L1007.8,1500.0 L1009.8,1499.7 L1011.8,1499.5 L1013.8,1499.3 L1015.8,1499.0 L1017.8,1498.8 L1019.8,1498.5 L1021.8,1498.2 L1023.8,1498.0 L1025.8,1497.7 L1027.8,1497.4 L1029.8,1497.1 L1031.8,1496.8 L1033.8,1496.5 L1035.8,1496.2 L1037.8,1495.8 L1039.8,1495.5 L1041.8,1495.1 L1043.8,1494.8 L1045.8,1494.4 L1047.8,1494.0 L1049.8,1493.6 L1051.8,1493.2 L1053.8,1492.7 L1055.8,1492.3 L1057.8,1491.8 L1059.8,1491.3 L1061.8,1490.8 L1063.8,1490.3 L1065.8,1489.8 L1067.8,1489.3 L1069.8,1488.7 L1071.8,1488.1 L1073.8,1487.5 L1075.8,1486.9 L1077.8,1486.2 L1079.8,1485.5 L1081.8,1484.8 L1083.8,1484.0 L1085.8,1483.2 L1087.8,1482.3 L1089.8,1481.4 L1091.8,1480.4 L1093.8,1479.4 L1095.8,1478.4 L1097.8,1477.2 L1099.8,1476.0 L1101.8,1474.8 L1103.8,1473.4 L1105.8,1472.0 L1107.8,1470.5 L1109.8,1468.8 L1111.8,1467.1 L1113.8,1465.2 L1115.8,1463.3 L1117.8,1461.1 L1119.8,1458.8 L1121.8,1456.3 L1123.8,1453.7 L1125.8,1450.8 L1127.8,1447.7 L1129.8,1444.2 L1131.8,1440.5 L1133.8,1436.5 L1135.8,1432.1 L1137.8,1427.2 L1139.8,1421.8 L1141.8,1415.9 L1143.8,1409.3 L1145.8,1402.0 L1147.8,1393.9 L1149.8,1384.7 L1151.8,1374.6 L1153.8,1363.1 L1155.8,1350.0 L1157.8,1335.0 L1159.8,1317.7 L1161.8,1297.7 L1163.8,1274.3 L1165.8,1247.0 L1165.9,1245.8 L1178.5,895.6 L1191.2,172.0 L1193.6,280.0 L1203.8,536.2 L1216.4,1139.9 L1217.8,1178.3 L1219.8,1226.8 L1221.8,1267.3 L1223.8,1301.1 L1225.8,1329.5 L1227.8,1353.3 L1229.8,1373.4 L1231.8,1390.3 L1233.8,1404.7 L1235.8,1416.9 L1237.8,1427.5 L1239.8,1436.6 L1241.8,1444.5 L1243.8,1451.3 L1245.8,1457.3 L1247.8,1462.6 L1249.8,1467.2 L1251.8,1471.3 L1253.8,1475.0 L1255.8,1478.2 L1257.8,1481.1 L1259.8,1483.7 L1261.8,1486.0 L1263.8,1488.1 L1265.8,1490.0 L1267.8,1491.7 L1269.8,1493.3 L1271.8,1494.7 L1273.8,1496.0 L1275.8,1497.2 L1277.8,1498.3 L1279.8,1499.3 L1281.8,1500.2 L1283.8,1501.0 L1285.8,1501.8 L1287.8,1502.5 L1289.8,1503.2 L1291.8,1503.9 L1293.8,1504.5 L1295.8,1505.2 L1297.8,1505.7 L1299.8,1506.3 L1301.8,1506.8 L1303.8,1507.3 L1305.8,1507.8 L1307.8,1508.2 L1309.8,1508.6 L1311.8,1509.0 L1313.8,1509.4 L1315.8,1509.8 L1317.8,1510.1 L1319.8,1510.4 L1321.8,1510.8 L1323.8,1511.1 L1325.8,1511.4 L1327.8,1511.6 L1329.8,1511.9 L1331.8,1512.2 L1333.8,1512.4 L1335.8,1512.7 L1337.8,1512.9 L1339.8,1513.1 L1341.8,1513.4 L1343.8,1513.6 L1345.8,1513.7 L1347.8,1513.9 L1349.8,1514.0 L1351.8,1514.1 L1353.8,1514.2 L1355.8,1514.3 L1357.8,1514.4 L1359.8,1514.4 L1361.8,1514.5 L1363.8,1514.6 L1365.8,1514.7 L1367.8,1514.8 L1369.8,1514.8 L1371.8,1514.9 L1373.8,1515.0 L1375.8,1515.0 L1377.8,1515.1 L1379.8,1515.1 L1381.8,1515.2 L1383.8,1515.2 L1385.8,1515.3 L1387.8,1515.3 L1389.8,1515.4 L1391.8,1515.4 L1393.8,1515.5 L1395.8,1515.5 L1397.8,1515.6 L1399.8,1515.6 L1401.8,1515.6 L1403.8,1515.6 L1405.8,1515.7 L1407.8,1515.7 L1409.8,1515.7 L1411.8,1515.7 L1413.8,1515.7 L1415.8,1515.8 L1417.8,1515.8 L1419.8,1515.8 L1421.8,1515.8 L1423.8,1515.8 L1425.8,1515.8 L1427.8,1515.8 L1429.8,1515.9 L1431.8,1515.9 L1433.8,1515.9 L1435.8,1515.9 L1437.8,1515.9 L1439.8,1515.9 L1441.8,1515.9 L1443.8,1515.9 L1445.8,1515.9 L1447.8,1515.9 L1449.8,1515.9 L1451.8,1515.9 L1453.8,1515.9 L1455.8,1515.9 L1457.8,1515.9 L1459.8,1516.0 L1461.8,1516.0 L1463.8,1516.0 L1465.8,1516.0 L1467.8,1516.0 L1469.8,1516.0 L1471.8,1516.0 L1473.8,1516.0 L1475.8,1516.0 L1477.8,1516.0 L1479.8,1516.0 L1481.8,1516.0 L1483.8,1516.0 L1485.8,1516.0 L1487.8,1516.0 L1489.8,1516.0 L1491.8,1515.9 L1493.8,1515.9 L1495.8,1515.9 L1497.8,1515.9 L1499.8,1515.9 L1501.8,1515.9 L1503.8,1515.9 L1505.8,1515.9 L1507.8,1515.9 L1509.8,1515.9 L1511.8,1515.9 L1513.8,1515.9 L1515.8,1515.9 L1517.8,1515.9 L1519.8,1515.9 L1521.8,1515.9 L1523.8,1515.9 L1525.8,1515.9 L1527.8,1515.9 L1529.8,1515.9 L1531.8,1515.9 L1533.8,1515.9 L1535.8,1515.8 L1537.8,1515.8 L1539.8,1515.8 L1541.8,1515.8 L1543.8,1515.8 L1545.8,1515.8 L1547.8,1515.8 L1549.8,1515.8 L1551.8,1515.8 L1553.8,1515.8 L1555.8,1515.8 L1557.8,1515.8 L1559.8,1515.8 L1561.8,1515.8 L1563.8,1515.8 L1565.8,1515.7 L1567.8,1515.7 L1569.8,1515.7 L1571.8,1515.7 L1573.8,1515.7 L1575.8,1515.7 L1577.8,1515.7 L1579.8,1515.7 L1581.8,1515.7 L1583.8,1515.7 L1585.8,1515.7 L1587.8,1515.7 L1589.8,1515.6 L1591.8,1515.6 L1593.8,1515.6 L1595.8,1515.6 L1597.8,1515.6 L1599.8,1515.6 L1601.8,1515.6 L1603.8,1515.6 L1605.8,1515.5 L1607.8,1515.5 L1609.8,1515.5 L1611.8,1515.5 L1613.8,1515.5 L1615.8,1515.4 L1617.8,1515.4 L1619.8,1515.4 L1621.8,1515.4 L1623.8,1515.3 L1625.8,1515.3 L1627.8,1515.3 L1629.8,1515.3 L1631.8,1515.3 L1633.8,1515.2 L1635.8,1515.2 L1637.8,1515.2 L1639.8,1515.2 L1641.8,1515.2 L1643.8,1515.1 L1645.8,1515.1 L1647.8,1515.1 L1649.8,1515.1 L1651.8,1515.0 L1653.8,1515.0 L1655.8,1515.0 L1657.8,1515.0 L1659.8,1515.0 L1661.8,1514.9 L1663.8,1514.9 L1665.8,1514.9 L1667.8,1514.9 L1669.8,1514.8 L1671.8,1514.8 L1673.8,1514.8 L1675.8,1514.8 L1677.8,1514.8 L1679.8,1514.7 L1681.8,1514.7 L1683.8,1514.7 L1685.8,1514.7 L1687.8,1514.6 L1689.8,1514.6 L1691.8,1514.6 L1693.8,1514.6 L1695.8,1514.5 L1697.8,1514.5 L1699.8,1514.5 L1701.8,1514.4 L1703.8,1514.4 L1705.8,1514.3 L1707.8,1514.2 L1709.8,1514.2 L1711.8,1514.1 L1713.8,1514.0 L1715.8,1514.0 L1717.8,1513.9 L1719.8,1513.8 L1721.8,1513.8 L1723.8,1513.7 L1725.8,1513.7 L1727.8,1513.6 L1729.8,1513.5 L1731.8,1513.5 L1733.8,1513.4 L1735.8,1513.3 L1737.8,1513.3 L1739.8,1513.2 L1741.8,1513.1 L1743.8,1513.1 L1745.8,1513.0 L1747.8,1512.9 L1749.8,1512.9 L1751.8,1512.8 L1753.8,1512.7 L1755.8,1512.7 L1757.8,1512.6 L1759.8,1512.5 L1761.8,1512.5 L1763.8,1512.4 L1765.8,1512.3 L1767.8,1512.3 L1769.8,1512.2 L1771.8,1512.1 L1773.8,1512.1 L1775.8,1512.0 L1777.8,1511.9 L1779.8,1511.9 L1781.8,1511.8 L1783.8,1511.7 L1785.8,1511.7 L1787.8,1511.6 L1789.8,1511.5 L1791.8,1511.5 L1793.8,1511.4 L1795.8,1511.3 L1797.8,1511.3 L1799.8,1511.2 L1801.8,1511.2 L1803.8,1511.2 L1805.8,1511.1 L1807.8,1511.1 L1809.8,1511.1 L1811.8,1511.1 L1813.8,1511.0 L1815.8,1511.0 L1817.8,1511.0 L1819.8,1511.0 L1821.8,1510.9 L1823.8,1510.9 L1825.8,1510.9 L1827.8,1510.9 L1829.8,1510.8 L1831.8,1510.8 L1833.8,1510.8 L1835.8,1510.8 L1837.8,1510.7 L1839.8,1510.7 L1841.8,1510.7 L1843.8,1510.7 L1845.8,1510.7 L1847.8,1510.6 L1849.8,1510.6 L1851.8,1510.6 L1853.8,1510.6 L1855.8,1510.6 L1857.8,1510.6 L1859.8,1510.6 L1861.8,1510.6 L1863.8,1510.6 L1865.8,1510.6 L1867.8,1510.6 L1869.8,1510.5 L1871.8,1510.5 L1873.8,1510.5 L1875.8,1510.5 L1877.8,1510.5 L1879.8,1510.5 L1881.8,1510.5 L1883.8,1510.5 L1885.8,1510.5 L1887.8,1510.5 L1889.8,1510.5 L1891.8,1510.5 L1893.8,1510.5 L1895.8,1510.5 L1897.8,1510.5 L1899.8,1510.5 L1901.8,1510.5 L1903.8,1510.5 L1905.8,1510.5 L1907.8,1510.4 L1909.8,1510.4 L1911.8,1510.4 L1913.8,1510.4 L1915.8,1510.4 L1917.8,1510.4 L1919.8,1510.4 L1921.8,1510.4 L1923.8,1510.4 L1925.8,1510.4 L1927.8,1510.4 L1929.8,1510.4 L1931.8,1510.4 L1933.8,1510.4 L1935.8,1510.4 L1937.8,1510.4 L1939.8,1510.4 L1941.8,1510.4 L1943.8,1510.4 L1945.8,1510.3 L1947.8,1510.3 L1949.8,1510.3 L1951.8,1510.3 L1953.8,1510.3 L1955.8,1510.3 L1957.8,1510.3 L1959.8,1510.3 L1961.8,1510.3 L1963.8,1510.3 L1965.8,1510.3 L1967.8,1510.3 L1969.8,1510.3 L1971.8,1510.3 L1973.8,1510.3 L1975.8,1510.3 L1977.8,1510.3 L1979.8,1510.3 L1981.8,1510.2 L1983.8,1510.2 L1985.8,1510.2 L1987.8,1510.2 L1989.8,1510.2 L1991.8,1510.2 L1993.8,1510.2 L1995.8,1510.2 L1997.8,1510.2 L1999.8,1510.2 L2001.8,1510.2 L2003.8,1510.2 L2005.8,1510.2 L2007.8,1510.1 L2009.8,1510.1 L2011.8,1510.1 L2013.8,1510.1 L2015.8,1510.1 L2017.8,1510.1 L2019.8,1510.0 L2021.8,1510.0 L2023.8,1510.0 L2025.8,1510.0 L2027.8,1510.0 L2029.8,1510.0 L2031.8,1509.9 L2033.8,1509.9 L2035.8,1509.9 L2037.8,1509.9 L2039.8,1509.9 L2041.8,1509.9 L2043.8,1509.9 L2045.8,1509.8 L2047.8,1509.8 L2049.8,1509.8 L2051.8,1509.8 L2053.8,1509.8 L2055.8,1509.8 L2057.8,1509.7 L2059.8,1509.7 L2061.8,1509.7 L2063.8,1509.7 L2065.8,1509.7 L2067.8,1509.7 L2069.8,1509.6 L2071.8,1509.6 L2073.8,1509.6 L2075.8,1509.6 L2077.8,1509.6 L2079.8,1509.6 L2081.8,1509.6 L2083.8,1509.5 L2085.8,1509.5 L2087.8,1509.5 L2089.8,1509.5 L2091.8,1509.5 L2093.8,1509.5 L2095.8,1509.4 L2097.8,1509.4 L2099.8,1509.4 L2101.8,1509.4 L2103.8,1509.4 L2105.8,1509.4 L2107.8,1509.3 L2109.8,1509.3 L2111.8,1509.3 L2113.8,1509.3 L2115.8,1509.3 L2117.8,1509.3 L2119.8,1509.3 L2121.8,1509.2 L2123.8,1509.2 L2125.8,1509.2 L2127.8,1509.2 L2129.8,1509.2 L2131.8,1509.2 L2133.8,1509.1 L2135.8,1509.1 L2137.8,1509.1 L2139.8,1509.1 L2141.8,1509.1 L2143.8,1509.1 L2145.8,1509.0 L2147.8,1509.0 L2149.8,1509.0 L2151.8,1509.0" stroke="#1565e0"/>
<path d="M255.8,1512.0 L257.8,1512.0 L259.8,1512.0 L261.8,1512.0 L263.8,1512.0 L265.8,1512.0 L267.8,1512.0 L269.8,1512.0 L271.8,1512.0 L273.8,1512.0 L275.8,1512.0 L277.8,1512.0 L279.8,1512.0 L281.8,1512.0 L283.8,1512.0 L285.8,1512.0 L287.8,1512.0 L289.8,1512.0 L291.8,1512.0 L293.8,1512.0 L295.8,1512.0 L297.8,1512.0 L299.8,1512.0 L301.8,1512.0 L303.8,1512.0 L305.8,1512.0 L307.8,1512.0 L309.8,1512.0 L311.8,1512.0 L313.8,1512.0 L315.8,1512.0 L317.8,1512.0 L319.8,1512.0 L321.8,1512.0 L323.8,1512.0 L325.8,1512.0 L327.8,1512.0 L329.8,1512.0 L331.8,1512.0 L333.8,1512.0 L335.8,1512.0 L337.8,1512.0 L339.8,1512.0 L341.8,1512.0 L343.8,1512.0 L345.8,1512.0 L347.8,1512.0 L349.8,1512.0 L351.8,1512.0 L353.8,1512.0 L355.8,1512.0 L357.8,1512.0 L359.8,1512.0 L361.8,1512.0 L363.8,1512.0 L365.8,1512.0 L367.8,1512.0 L369.8,1512.0 L371.8,1512.0 L373.8,1512.0 L375.8,1512.0 L377.8,1512.0 L379.8,1512.0 L381.8,1512.0 L383.8,1512.0 L385.8,1512.0 L387.8,1512.0 L389.8,1512.0 L391.8,1512.0 L393.8,1512.0 L395.8,1512.0 L397.8,1512.0 L399.8,1512.0 L401.8,1512.0 L403.8,1512.0 L405.8,1512.0 L407.8,1512.0 L409.8,1512.0 L411.8,1512.0 L413.8,1512.0 L415.8,1512.0 L417.8,1512.0 L419.8,1512.0 L421.8,1512.0 L423.8,1512.0 L425.8,1512.0 L427.8,1512.0 L429.8,1512.0 L431.8,1512.0 L433.8,1512.0 L435.8,1512.0 L437.8,1512.0 L439.8,1512.0 L441.8,1512.0 L443.8,1512.0 L445.8,1512.0 L447.8,1512.0 L449.8,1512.0 L451.8,1512.0 L453.8,1512.0 L455.8,1512.0 L457.8,1512.0 L459.8,1512.0 L461.8,1512.0 L463.8,1512.0 L465.8,1512.0 L467.8,1512.0 L469.8,1512.0 L471.8,1512.0 L473.8,1512.0 L475.8,1512.0 L477.8,1512.0 L479.8,1512.0 L481.8,1512.0 L483.8,1512.0 L485.8,1512.0 L487.8,1512.0 L489.8,1512.0 L491.8,1512.0 L493.8,1512.0 L495.8,1512.0 L497.8,1512.0 L499.8,1512.0 L501.8,1512.0 L503.8,1512.0 L505.8,1512.0 L507.8,1512.0 L509.8,1512.0 L511.8,1512.0 L513.8,1512.0 L515.8,1512.0 L517.8,1512.0 L519.8,1512.0 L521.8,1511.9 L523.8,1511.9 L525.8,1511.9 L527.8,1511.9 L529.8,1511.9 L531.8,1511.9 L533.8,1511.9 L535.8,1511.9 L537.8,1511.9 L539.8,1511.9 L541.8,1511.9 L543.8,1511.9 L545.8,1511.9 L547.8,1511.9 L549.8,1511.9 L551.8,1511.9 L553.8,1511.9 L555.8,1511.9 L557.8,1511.9 L559.8,1511.9 L561.8,1511.9 L563.8,1511.9 L565.8,1511.9 L567.8,1511.9 L569.8,1511.9 L571.8,1511.9 L573.8,1511.9 L575.8,1511.9 L577.8,1511.9 L579.8,1511.9 L581.8,1511.9 L583.8,1511.9 L585.8,1511.9 L587.8,1511.9 L589.8,1511.9 L591.8,1511.9 L593.8,1511.9 L595.8,1511.9 L597.8,1511.9 L599.8,1511.9 L601.8,1511.9 L603.8,1511.9 L605.8,1511.9 L607.8,1511.9 L609.8,1511.8 L611.8,1511.8 L613.8,1511.8 L615.8,1511.8 L617.8,1511.8 L619.8,1511.8 L621.8,1511.8 L623.8,1511.8 L625.8,1511.8 L627.8,1511.8 L629.8,1511.8 L631.8,1511.8 L633.8,1511.8 L635.8,1511.8 L637.8,1511.8 L639.8,1511.8 L641.8,1511.8 L643.8,1511.8 L645.8,1511.8 L647.8,1511.8 L649.8,1511.8 L651.8,1511.8 L653.8,1511.8 L655.8,1511.8 L657.8,1511.8 L659.8,1511.8 L660.3,1511.8 L672.9,1515.0 L685.6,1511.9 L685.8,1511.9 L687.8,1511.9 L689.8,1511.9 L691.8,1511.9 L693.8,1511.9 L695.8,1511.9 L697.8,1511.9 L699.8,1511.9 L701.8,1511.9 L703.8,1511.9 L705.8,1511.9 L707.8,1511.9 L709.8,1511.9 L711.8,1511.9 L713.8,1511.9 L715.8,1511.9 L717.8,1511.9 L719.8,1511.9 L721.8,1511.9 L723.8,1511.9 L725.8,1511.9 L727.8,1511.9 L729.8,1511.9 L731.8,1511.9 L733.8,1511.9 L735.8,1511.9 L737.8,1511.9 L739.8,1511.9 L741.8,1511.9 L743.8,1511.9 L745.8,1511.9 L747.8,1511.9 L749.8,1511.9 L751.8,1511.9 L753.8,1511.9 L755.8,1511.9 L757.8,1511.9 L759.8,1511.9 L761.8,1511.9 L763.8,1511.9 L765.8,1511.9 L767.8,1511.9 L769.8,1511.9 L771.8,1511.9 L773.8,1511.9 L775.8,1511.9 L777.8,1511.9 L779.8,1511.9 L781.8,1511.9 L783.8,1511.9 L785.8,1511.9 L787.8,1511.9 L789.8,1511.9 L791.8,1511.9 L793.8,1511.9 L795.8,1511.9 L797.8,1511.9 L799.8,1511.9 L801.8,1511.9 L803.8,1511.9 L805.8,1511.9 L807.8,1511.9 L809.8,1511.9 L811.8,1511.9 L813.8,1511.9 L815.8,1511.9 L817.8,1511.9 L819.8,1511.9 L821.8,1511.9 L823.8,1511.9 L825.8,1511.9 L827.8,1511.9 L829.8,1511.9 L831.8,1511.9 L833.8,1511.9 L835.8,1511.9 L837.8,1511.8 L839.8,1511.8 L841.8,1511.8 L843.8,1511.8 L845.8,1511.8 L847.8,1511.8 L849.8,1511.8 L851.8,1511.8 L853.8,1511.8 L855.8,1511.8 L857.8,1511.8 L859.8,1511.8 L861.8,1511.8 L863.8,1511.8 L865.8,1511.8 L867.8,1511.8 L869.8,1511.8 L871.8,1511.8 L873.8,1511.8 L875.8,1511.7 L877.8,1511.7 L879.8,1511.7 L881.8,1511.7 L883.8,1511.7 L885.8,1511.7 L887.8,1511.7 L889.8,1511.7 L891.8,1511.7 L893.8,1511.7 L895.8,1511.7 L897.8,1511.7 L899.8,1511.7 L901.8,1511.6 L903.8,1511.6 L905.8,1511.6 L907.8,1511.6 L909.8,1511.6 L911.8,1511.6 L913.8,1511.6 L915.8,1511.6 L917.8,1511.6 L919.8,1511.6 L921.8,1511.5 L923.8,1511.5 L925.7,1511.5 L938.4,1515.0 L951.0,1508.4 L951.8,1508.2 L953.8,1507.9 L955.8,1507.6 L957.8,1507.3 L959.8,1507.0 L961.8,1506.9 L963.8,1506.8 L965.8,1506.6 L967.8,1506.5 L969.8,1506.4 L971.8,1506.3 L973.8,1506.2 L975.8,1506.0 L977.8,1505.9 L979.8,1505.8 L981.8,1505.7 L983.8,1505.5 L985.8,1505.4 L987.8,1505.3 L989.8,1505.2 L991.8,1505.0 L993.8,1504.9 L995.8,1504.8 L997.8,1504.6 L999.8,1504.5 L1001.8,1504.5 L1003.8,1504.4 L1005.8,1504.4 L1007.8,1504.3 L1009.8,1504.3 L1011.8,1504.2 L1013.8,1504.2 L1015.8,1504.1 L1017.8,1504.1 L1019.8,1504.0 L1021.8,1504.0 L1023.8,1503.9 L1025.8,1503.9 L1027.8,1503.9 L1029.8,1503.9 L1031.8,1503.9 L1033.8,1503.9 L1035.8,1503.9 L1037.8,1503.9 L1039.8,1503.9 L1041.8,1503.9 L1043.8,1503.9 L1045.8,1503.9 L1047.8,1503.9 L1049.8,1503.9 L1051.8,1503.9 L1053.8,1503.9 L1055.8,1503.9 L1057.8,1503.9 L1059.8,1503.9 L1061.8,1503.9 L1063.8,1503.9 L1065.8,1503.9 L1067.8,1503.9 L1069.8,1503.9 L1071.8,1503.8 L1073.8,1503.8 L1075.8,1503.8 L1077.8,1503.8 L1079.8,1503.8 L1081.8,1503.8 L1083.8,1503.8 L1085.8,1503.7 L1087.8,1503.7 L1089.8,1503.7 L1091.8,1503.7 L1093.8,1503.7 L1095.8,1503.6 L1097.8,1503.6 L1099.8,1503.6 L1101.8,1503.6 L1103.8,1503.6 L1105.8,1503.6 L1107.8,1503.6 L1109.8,1503.7 L1111.8,1503.7 L1113.8,1503.7 L1115.8,1503.7 L1117.8,1503.7 L1119.8,1503.7 L1121.8,1503.7 L1123.8,1503.7 L1125.8,1503.7 L1127.8,1503.7 L1129.8,1503.7 L1131.8,1503.7 L1133.8,1503.7 L1135.8,1503.7 L1137.8,1503.6 L1139.8,1503.6 L1141.8,1503.6 L1143.8,1503.6 L1145.8,1503.6 L1147.8,1503.6 L1149.8,1503.5 L1151.8,1503.5 L1153.8,1503.5 L1155.8,1503.5 L1157.8,1503.4 L1159.8,1503.4 L1161.8,1503.4 L1163.8,1503.3 L1165.8,1503.2 L1167.8,1503.1 L1169.8,1502.9 L1171.8,1502.7 L1173.8,1502.5 L1175.8,1502.3 L1177.8,1502.2 L1178.5,1503.5 L1191.2,1512.0 L1203.8,1502.5 L1205.8,1499.2 L1207.8,1498.9 L1209.8,1498.7 L1211.8,1498.4 L1213.8,1498.2 L1215.8,1497.9 L1217.8,1497.7 L1219.8,1497.4 L1221.8,1497.2 L1223.8,1496.9 L1225.8,1496.6 L1227.8,1496.3 L1229.8,1496.1 L1231.8,1495.8 L1233.8,1495.5 L1235.8,1495.2 L1237.8,1494.9 L1239.8,1494.5 L1241.8,1494.2 L1243.8,1493.9 L1245.8,1493.5 L1247.8,1493.2 L1249.8,1492.8 L1251.8,1492.4 L1253.8,1492.0 L1255.8,1491.6 L1257.8,1491.2 L1259.8,1490.8 L1261.8,1490.4 L1263.8,1489.9 L1265.8,1489.4 L1267.8,1489.0 L1269.8,1488.5 L1271.8,1488.0 L1273.8,1487.4 L1275.8,1486.9 L1277.8,1486.3 L1279.8,1485.8 L1281.8,1485.2 L1283.8,1484.5 L1285.8,1483.9 L1287.8,1483.2 L1289.8,1482.5 L1291.8,1481.8 L1293.8,1481.1 L1295.8,1480.3 L1297.8,1479.5 L1299.8,1478.7 L1301.8,1477.8 L1303.8,1477.0 L1305.8,1476.1 L1307.8,1475.1 L1309.8,1474.1 L1311.8,1473.1 L1313.8,1472.0 L1315.8,1470.9 L1317.8,1469.7 L1319.8,1468.5 L1321.8,1467.2 L1323.8,1465.8 L1325.8,1464.4 L1327.8,1462.9 L1329.8,1461.3 L1331.8,1459.7 L1333.8,1458.0 L1335.8,1456.1 L1337.8,1454.2 L1339.8,1452.2 L1341.8,1450.0 L1343.8,1447.8 L1345.8,1445.3 L1347.8,1442.8 L1349.8,1440.1 L1351.8,1437.2 L1353.8,1434.1 L1355.8,1430.9 L1357.8,1427.4 L1359.8,1423.7 L1361.8,1419.7 L1363.8,1415.5 L1365.8,1410.9 L1367.8,1406.0 L1369.8,1400.7 L1371.8,1395.0 L1373.8,1388.8 L1375.8,1382.1 L1377.8,1374.9 L1379.8,1367.0 L1381.8,1358.4 L1383.8,1349.0 L1385.8,1338.8 L1387.8,1327.5 L1389.8,1315.1 L1391.8,1301.4 L1393.4,1289.4 L1406.0,1146.9 L1418.7,790.0 L1431.3,244.0 L1444.0,322.0 L1456.6,945.0 L1469.2,1224.7 L1481.9,1364.5 L1483.8,1377.3 L1485.8,1389.1 L1487.8,1399.6 L1489.8,1409.0 L1491.8,1417.3 L1493.8,1424.8 L1495.8,1431.6 L1497.8,1437.6 L1499.8,1443.1 L1501.8,1448.1 L1503.8,1452.6 L1505.8,1456.7 L1507.8,1460.5 L1509.8,1463.9 L1511.8,1467.1 L1513.8,1470.0 L1515.8,1472.6 L1517.8,1475.1 L1519.8,1477.3 L1521.8,1479.5 L1523.8,1481.4 L1525.8,1483.2 L1527.8,1484.9 L1529.8,1486.5 L1531.8,1487.9 L1533.8,1489.3 L1535.8,1490.6 L1537.8,1491.8 L1539.8,1492.9 L1541.8,1493.9 L1543.8,1494.9 L1545.8,1495.8 L1547.8,1496.6 L1549.8,1497.4 L1551.8,1498.1 L1553.8,1498.8 L1555.8,1499.5 L1557.8,1500.1 L1559.8,1500.7 L1561.8,1501.2 L1563.8,1501.7 L1565.8,1502.2 L1567.8,1502.7 L1569.8,1503.2 L1571.8,1503.6 L1573.8,1504.0 L1575.8,1504.4 L1577.8,1504.7 L1579.8,1505.1 L1581.8,1505.4 L1583.8,1505.7 L1585.8,1506.0 L1587.8,1506.3 L1589.8,1506.6 L1591.8,1506.8 L1593.8,1507.1 L1595.8,1507.3 L1597.8,1507.6 L1599.8,1507.8 L1601.8,1508.0 L1603.8,1508.3 L1605.8,1508.5 L1607.8,1508.8 L1609.8,1509.0 L1611.8,1509.2 L1613.8,1509.5 L1615.8,1509.7 L1617.8,1509.9 L1619.8,1510.1 L1621.8,1510.3 L1623.8,1510.5 L1625.8,1510.6 L1627.8,1510.8 L1629.8,1511.0 L1631.8,1511.2 L1633.8,1511.3 L1635.8,1511.5 L1637.8,1511.6 L1639.8,1511.8 L1641.8,1511.9 L1643.8,1512.1 L1645.8,1512.2 L1647.8,1512.4 L1649.8,1512.5 L1651.8,1512.7 L1653.8,1512.8 L1655.8,1512.9 L1657.8,1513.0 L1659.8,1513.2 L1661.8,1513.3 L1663.8,1513.4 L1665.8,1513.5 L1667.8,1513.6 L1669.8,1513.8 L1671.8,1513.9 L1673.8,1514.0 L1675.8,1514.1 L1677.8,1514.2 L1679.8,1514.3 L1681.8,1514.3 L1683.8,1514.4 L1685.8,1514.4 L1687.8,1514.5 L1689.8,1514.5 L1691.8,1514.5 L1693.8,1514.6 L1695.8,1514.6 L1697.8,1514.6 L1699.8,1514.7 L1701.8,1514.7 L1703.8,1514.7 L1705.8,1514.8 L1707.8,1514.8 L1709.8,1514.8 L1711.8,1514.8 L1713.8,1514.9 L1715.8,1514.9 L1717.8,1514.9 L1719.8,1514.9 L1721.8,1514.9 L1723.8,1515.0 L1725.8,1515.0 L1727.8,1515.0 L1729.8,1515.0 L1731.8,1515.0 L1733.8,1515.0 L1735.8,1515.1 L1737.8,1515.1 L1739.8,1515.1 L1741.8,1515.1 L1743.8,1515.1 L1745.8,1515.1 L1747.8,1515.1 L1749.8,1515.2 L1751.8,1515.2 L1753.8,1515.2 L1755.8,1515.2 L1757.8,1515.2 L1759.8,1515.2 L1761.8,1515.2 L1763.8,1515.2 L1765.8,1515.2 L1767.8,1515.2 L1769.8,1515.2 L1771.8,1515.2 L1773.8,1515.3 L1775.8,1515.3 L1777.8,1515.3 L1779.8,1515.3 L1781.8,1515.3 L1783.8,1515.3 L1785.8,1515.3 L1787.8,1515.3 L1789.8,1515.3 L1791.8,1515.3 L1793.8,1515.3 L1795.8,1515.3 L1797.8,1515.3 L1799.8,1515.3 L1801.8,1515.3 L1803.8,1515.3 L1805.8,1515.3 L1807.8,1515.3 L1809.8,1515.3 L1811.8,1515.4 L1813.8,1515.4 L1815.8,1515.4 L1817.8,1515.4 L1819.8,1515.4 L1821.8,1515.4 L1823.8,1515.4 L1825.8,1515.4 L1827.8,1515.4 L1829.8,1515.4 L1831.8,1515.4 L1833.8,1515.4 L1835.8,1515.4 L1837.8,1515.4 L1839.8,1515.4 L1841.8,1515.4 L1843.8,1515.5 L1845.8,1515.5 L1847.8,1515.5 L1849.8,1515.5 L1851.8,1515.5 L1853.8,1515.5 L1855.8,1515.5 L1857.8,1515.5 L1859.8,1515.5 L1861.8,1515.5 L1863.8,1515.5 L1865.8,1515.5 L1867.8,1515.5 L1869.8,1515.5 L1871.8,1515.5 L1873.8,1515.5 L1875.8,1515.5 L1877.8,1515.5 L1879.8,1515.5 L1881.8,1515.5 L1883.8,1515.5 L1885.8,1515.5 L1887.8,1515.5 L1889.8,1515.5 L1891.8,1515.5 L1893.8,1515.5 L1895.8,1515.5 L1897.8,1515.5 L1899.8,1515.5 L1901.8,1515.5 L1903.8,1515.5 L1905.8,1515.5 L1907.8,1515.5 L1909.8,1515.5 L1911.8,1515.5 L1913.8,1515.5 L1915.8,1515.5 L1917.8,1515.5 L1919.8,1515.5 L1921.8,1515.5 L1923.8,1515.5 L1925.8,1515.5 L1927.8,1515.5 L1929.8,1515.5 L1931.8,1515.5 L1933.8,1515.5 L1935.8,1515.5 L1937.8,1515.5 L1939.8,1515.5 L1941.8,1515.5 L1943.8,1515.5 L1945.8,1515.5 L1947.8,1515.5 L1949.8,1515.5 L1951.8,1515.5 L1953.8,1515.5 L1955.8,1515.5 L1957.8,1515.5 L1959.8,1515.5 L1961.8,1515.5 L1963.8,1515.5 L1965.8,1515.5 L1967.8,1515.5 L1969.8,1515.5 L1971.8,1515.5 L1973.8,1515.5 L1975.8,1515.5 L1977.8,1515.5 L1979.8,1515.5 L1981.8,1515.5 L1983.8,1515.5 L1985.8,1515.5 L1987.8,1515.5 L1989.8,1515.5 L1991.8,1515.5 L1993.8,1515.5 L1995.8,1515.5 L1997.8,1515.5 L1999.8,1515.5 L2001.8,1515.5 L2003.8,1515.5 L2005.8,1515.5 L2007.8,1515.5 L2009.8,1515.5 L2011.8,1515.5 L2013.8,1515.5 L2015.8,1515.5 L2017.8,1515.5 L2019.8,1515.5 L2021.8,1515.5 L2023.8,1515.5 L2025.8,1515.5 L2027.8,1515.5 L2029.8,1515.5 L2031.8,1515.5 L2033.8,1515.5 L2035.8,1515.5 L2037.8,1515.5 L2039.8,1515.5 L2041.8,1515.5 L2043.8,1515.5 L2045.8,1515.5 L2047.8,1515.5 L2049.8,1515.5 L2051.8,1515.5 L2053.8,1515.5 L2055.8,1515.4 L2057.8,1515.4 L2059.8,1515.4 L2061.8,1515.4 L2063.8,1515.4 L2065.8,1515.4 L2067.8,1515.4 L2069.8,1515.4 L2071.8,1515.4 L2073.8,1515.4 L2075.8,1515.4 L2077.8,1515.4 L2079.8,1515.4 L2081.8,1515.4 L2083.8,1515.4 L2085.8,1515.4 L2087.8,1515.4 L2089.8,1515.4 L2091.8,1515.4 L2093.8,1515.4 L2095.8,1515.4 L2097.8,1515.4 L2099.8,1515.4 L2101.8,1515.4 L2103.8,1515.4 L2105.8,1515.4 L2107.8,1515.4 L2109.8,1515.4 L2111.8,1515.4 L2113.8,1515.4 L2115.8,1515.4 L2117.8,1515.4 L2119.8,1515.4 L2121.8,1515.4 L2123.8,1515.3 L2125.8,1515.3 L2127.8,1515.3 L2129.8,1515.3 L2131.8,1515.3 L2133.8,1515.3 L2135.8,1515.3 L2137.8,1515.3 L2139.8,1515.3 L2141.8,1515.3 L2143.8,1515.3 L2145.8,1515.3 L2147.8,1515.3 L2149.8,1515.3 L2151.8,1515.3" stroke="#2aa862"/>
<path d="M255.8,1513.2 L257.8,1513.2 L259.8,1513.2 L261.8,1513.2 L263.8,1513.2 L265.8,1513.2 L267.8,1513.1 L269.8,1513.1 L271.8,1513.1 L273.8,1513.1 L275.8,1513.1 L277.8,1513.1 L279.8,1513.1 L281.8,1513.1 L283.8,1513.1 L285.8,1513.1 L287.8,1513.1 L289.8,1513.1 L291.8,1513.0 L293.8,1513.0 L295.8,1513.0 L297.8,1513.0 L299.8,1513.0 L301.8,1513.0 L303.8,1513.0 L305.8,1513.0 L307.8,1513.0 L309.8,1513.0 L311.8,1513.0 L313.8,1513.0 L315.8,1512.9 L317.8,1512.9 L319.8,1512.9 L321.8,1512.9 L323.8,1512.9 L325.8,1512.9 L327.8,1512.9 L329.8,1512.9 L331.8,1512.9 L333.8,1512.9 L335.8,1512.9 L337.8,1512.9 L339.8,1512.8 L341.8,1512.8 L343.8,1512.8 L345.8,1512.8 L347.8,1512.8 L349.8,1512.8 L351.8,1512.8 L353.8,1512.8 L355.8,1512.8 L357.8,1512.8 L359.8,1512.8 L361.8,1512.7 L363.8,1512.7 L365.8,1512.7 L367.8,1512.7 L369.8,1512.7 L371.8,1512.7 L373.8,1512.7 L375.8,1512.7 L377.8,1512.7 L379.8,1512.7 L381.8,1512.7 L383.8,1512.7 L385.8,1512.6 L387.8,1512.6 L389.8,1512.6 L391.8,1512.6 L393.8,1512.6 L395.8,1512.6 L397.8,1512.6 L399.8,1512.6 L401.8,1512.6 L403.8,1512.6 L405.8,1512.6 L407.8,1512.5 L409.8,1512.5 L411.8,1512.5 L413.8,1512.5 L415.8,1512.5 L417.8,1512.5 L419.8,1512.5 L421.8,1512.5 L423.8,1512.5 L425.8,1512.5 L427.8,1512.5 L429.8,1512.4 L431.8,1512.4 L433.8,1512.4 L435.8,1512.4 L437.8,1512.4 L439.8,1512.4 L441.8,1512.4 L443.8,1512.4 L445.8,1512.4 L447.8,1512.4 L449.8,1512.4 L451.8,1512.4 L453.8,1512.4 L455.8,1512.4 L457.8,1512.4 L459.8,1512.4 L461.8,1512.4 L463.8,1512.4 L465.8,1512.4 L467.8,1512.4 L469.8,1512.4 L471.8,1512.4 L473.8,1512.4 L475.8,1512.4 L477.8,1512.4 L479.8,1512.4 L481.8,1512.4 L483.8,1512.4 L485.8,1512.4 L487.8,1512.4 L489.8,1512.4 L491.8,1512.4 L493.8,1512.4 L495.8,1512.4 L497.8,1512.4 L499.8,1512.4 L501.8,1512.4 L503.8,1512.4 L505.8,1512.3 L507.8,1512.3 L509.8,1512.3 L511.8,1512.3 L513.8,1512.3 L515.8,1512.3 L517.8,1512.3 L519.8,1512.3 L521.8,1512.3 L523.8,1512.3 L525.8,1512.3 L527.8,1512.3 L529.8,1512.3 L531.8,1512.3 L533.8,1512.3 L535.8,1512.3 L537.8,1512.3 L539.8,1512.3 L541.8,1512.3 L543.8,1512.3 L545.8,1512.3 L547.8,1512.3 L549.8,1512.3 L551.8,1512.3 L553.8,1512.3 L555.8,1512.3 L557.8,1512.3 L559.8,1512.3 L561.8,1512.3 L563.8,1512.3 L565.8,1512.3 L567.8,1512.3 L569.8,1512.3 L571.8,1512.3 L573.8,1512.3 L575.8,1512.3 L577.8,1512.3 L579.8,1512.3 L581.8,1512.3 L583.8,1512.3 L585.8,1512.3 L587.8,1512.3 L589.8,1512.3 L591.8,1512.3 L593.8,1512.3 L595.8,1512.3 L597.8,1512.3 L599.8,1512.3 L601.8,1512.3 L603.8,1512.2 L605.8,1512.2 L607.8,1512.2 L609.8,1512.2 L611.8,1512.2 L613.8,1512.2 L615.8,1512.2 L617.8,1512.2 L619.8,1512.2 L621.8,1512.2 L623.8,1512.2 L625.8,1512.2 L627.8,1512.2 L629.8,1512.2 L631.8,1512.2 L633.8,1512.2 L635.8,1512.2 L637.8,1512.2 L639.8,1512.2 L641.8,1512.2 L643.8,1512.1 L645.8,1512.1 L647.8,1512.1 L649.8,1512.1 L651.8,1512.0 L653.8,1512.0 L655.8,1512.0 L657.8,1512.0 L659.8,1511.9 L660.3,1511.9 L672.9,1515.2 L685.6,1511.6 L685.8,1511.6 L687.8,1511.6 L689.8,1511.5 L691.8,1511.5 L693.8,1511.5 L695.8,1511.5 L697.8,1511.4 L699.8,1511.4 L701.8,1511.4 L703.8,1511.4 L705.8,1511.4 L707.8,1511.4 L709.8,1511.4 L711.8,1511.4 L713.8,1511.4 L715.8,1511.4 L717.8,1511.4 L719.8,1511.4 L721.8,1511.4 L723.8,1511.4 L725.8,1511.4 L727.8,1511.4 L729.8,1511.4 L731.8,1511.4 L733.8,1511.4 L735.8,1511.4 L737.8,1511.4 L739.8,1511.4 L741.8,1511.4 L743.8,1511.4 L745.8,1511.4 L747.8,1511.4 L749.8,1511.4 L751.8,1511.4 L753.8,1511.4 L755.8,1511.4 L757.8,1511.4 L759.8,1511.4 L761.8,1511.4 L763.8,1511.4 L765.8,1511.4 L767.8,1511.4 L769.8,1511.4 L771.8,1511.4 L773.8,1511.4 L775.8,1511.4 L777.8,1511.4 L779.8,1511.4 L781.8,1511.4 L783.8,1511.4 L785.8,1511.4 L787.8,1511.4 L789.8,1511.4 L791.8,1511.4 L793.8,1511.4 L795.8,1511.4 L797.8,1511.4 L799.8,1511.4 L801.8,1511.4 L803.8,1511.4 L805.8,1511.4 L807.8,1511.4 L809.8,1511.4 L811.8,1511.4 L813.8,1511.4 L815.8,1511.4 L817.8,1511.4 L819.8,1511.4 L821.8,1511.4 L823.8,1511.4 L825.8,1511.4 L827.8,1511.4 L829.8,1511.4 L831.8,1511.4 L833.8,1511.4 L835.8,1511.4 L837.8,1511.4 L839.8,1511.4 L841.8,1511.4 L843.8,1511.4 L845.8,1511.4 L847.8,1511.4 L849.8,1511.4 L851.8,1511.4 L853.8,1511.4 L855.8,1511.4 L857.8,1511.4 L859.8,1511.4 L861.8,1511.4 L863.8,1511.4 L865.8,1511.4 L867.8,1511.4 L869.8,1511.4 L871.8,1511.4 L873.8,1511.4 L875.8,1511.4 L877.8,1511.4 L879.8,1511.4 L881.8,1511.4 L883.8,1511.4 L885.8,1511.4 L887.8,1511.4 L889.8,1511.4 L891.8,1511.4 L893.8,1511.4 L895.8,1511.4 L897.8,1511.4 L899.8,1511.4 L901.8,1511.3 L903.8,1511.3 L905.8,1511.3 L907.8,1511.3 L909.8,1511.3 L911.8,1511.3 L913.8,1511.3 L915.8,1511.3 L917.8,1511.3 L919.8,1511.3 L921.8,1511.3 L923.8,1511.3 L925.7,1511.3 L938.4,1515.8 L951.0,1510.8 L951.8,1510.8 L953.8,1510.7 L955.8,1510.7 L957.8,1510.7 L959.8,1510.6 L961.8,1510.6 L963.8,1510.6 L965.8,1510.6 L967.8,1510.6 L969.8,1510.6 L971.8,1510.5 L973.8,1510.5 L975.8,1510.5 L977.8,1510.5 L979.8,1510.5 L981.8,1510.5 L983.8,1510.5 L985.8,1510.5 L987.8,1510.5 L989.8,1510.4 L991.8,1510.4 L993.8,1510.4 L995.8,1510.4 L997.8,1510.4 L999.8,1510.4 L1001.8,1510.4 L1003.8,1510.4 L1005.8,1510.3 L1007.8,1510.3 L1009.8,1510.3 L1011.8,1510.3 L1013.8,1510.3 L1015.8,1510.3 L1017.8,1510.3 L1019.8,1510.3 L1021.8,1510.2 L1023.8,1510.2 L1025.8,1510.2 L1027.8,1510.2 L1029.8,1510.2 L1031.8,1510.2 L1033.8,1510.2 L1035.8,1510.1 L1037.8,1510.1 L1039.8,1510.1 L1041.8,1510.1 L1043.8,1510.1 L1045.8,1510.1 L1047.8,1510.1 L1049.8,1510.0 L1051.8,1510.0 L1053.8,1510.0 L1055.8,1510.0 L1057.8,1510.0 L1059.8,1510.0 L1061.8,1509.9 L1063.8,1509.9 L1065.8,1509.9 L1067.8,1509.9 L1069.8,1509.9 L1071.8,1509.9 L1073.8,1509.8 L1075.8,1509.8 L1077.8,1509.8 L1079.8,1509.8 L1081.8,1509.8 L1083.8,1509.8 L1085.8,1509.7 L1087.8,1509.7 L1089.8,1509.7 L1091.8,1509.7 L1093.8,1509.7 L1095.8,1509.6 L1097.8,1509.6 L1099.8,1509.6 L1101.8,1509.6 L1103.8,1509.6 L1105.8,1509.6 L1107.8,1509.6 L1109.8,1509.6 L1111.8,1509.7 L1113.8,1509.7 L1115.8,1509.7 L1117.8,1509.7 L1119.8,1509.7 L1121.8,1509.7 L1123.8,1509.7 L1125.8,1509.7 L1127.8,1509.7 L1129.8,1509.7 L1131.8,1509.7 L1133.8,1509.7 L1135.8,1509.7 L1137.8,1509.8 L1139.8,1509.8 L1141.8,1509.8 L1143.8,1509.8 L1145.8,1509.8 L1147.8,1509.8 L1149.8,1509.8 L1151.8,1509.8 L1153.8,1509.8 L1155.8,1509.8 L1157.8,1509.8 L1159.8,1509.8 L1161.8,1509.8 L1163.8,1509.8 L1165.8,1509.8 L1167.8,1509.8 L1169.8,1509.8 L1171.8,1509.8 L1173.8,1509.7 L1175.8,1509.7 L1177.8,1509.7 L1178.5,1509.6 L1191.2,1513.8 L1203.8,1509.1 L1205.8,1509.1 L1207.8,1509.0 L1209.8,1509.0 L1211.8,1508.9 L1213.8,1508.8 L1215.8,1508.7 L1217.8,1508.5 L1219.8,1508.4 L1221.8,1508.3 L1223.8,1508.2 L1225.8,1508.1 L1227.8,1507.9 L1229.8,1507.8 L1231.8,1507.7 L1233.8,1507.6 L1235.8,1507.4 L1237.8,1507.3 L1239.8,1507.2 L1241.8,1507.1 L1243.8,1506.9 L1245.8,1506.8 L1247.8,1506.7 L1249.8,1506.6 L1251.8,1506.4 L1253.8,1506.3 L1255.8,1506.2 L1257.8,1506.0 L1259.8,1505.9 L1261.8,1505.8 L1263.8,1505.6 L1265.8,1505.5 L1267.8,1505.4 L1269.8,1505.2 L1271.8,1505.1 L1273.8,1504.9 L1275.8,1504.8 L1277.8,1504.7 L1279.8,1504.5 L1281.8,1504.4 L1283.8,1504.4 L1285.8,1504.3 L1287.8,1504.2 L1289.8,1504.2 L1291.8,1504.1 L1293.8,1504.0 L1295.8,1504.0 L1297.8,1503.9 L1299.8,1503.8 L1301.8,1503.7 L1303.8,1503.6 L1305.8,1503.6 L1307.8,1503.5 L1309.8,1503.4 L1311.8,1503.3 L1313.8,1503.2 L1315.8,1503.2 L1317.8,1503.1 L1319.8,1503.0 L1321.8,1502.9 L1323.8,1502.8 L1325.8,1502.7 L1327.8,1502.6 L1329.8,1502.5 L1331.8,1502.4 L1333.8,1502.3 L1335.8,1502.2 L1337.8,1502.1 L1339.8,1502.0 L1341.8,1501.9 L1343.8,1501.7 L1345.8,1501.6 L1347.8,1501.5 L1349.8,1501.4 L1351.8,1501.3 L1353.8,1501.2 L1355.8,1501.0 L1357.8,1500.9 L1359.8,1500.8 L1361.8,1500.6 L1363.8,1500.5 L1365.8,1500.4 L1367.8,1500.2 L1369.8,1500.1 L1371.8,1499.9 L1373.8,1499.8 L1375.8,1499.6 L1377.8,1499.4 L1379.8,1499.3 L1381.8,1499.1 L1383.8,1498.9 L1385.8,1498.8 L1387.8,1498.6 L1389.8,1498.4 L1391.8,1498.3 L1393.8,1498.1 L1395.8,1497.9 L1397.8,1497.7 L1399.8,1497.6 L1401.8,1497.4 L1403.8,1497.2 L1405.8,1497.0 L1406.0,1497.0 L1418.7,1501.2 L1431.3,1512.4 L1444.0,1512.4 L1456.6,1490.6 L1469.2,1486.7 L1469.8,1486.6 L1471.8,1486.1 L1473.8,1485.5 L1475.8,1484.9 L1477.8,1484.4 L1479.8,1483.8 L1481.8,1483.1 L1483.8,1482.5 L1485.8,1481.8 L1487.8,1481.2 L1489.8,1480.5 L1491.8,1479.7 L1493.8,1479.0 L1495.8,1478.2 L1497.8,1477.4 L1499.8,1476.5 L1501.8,1475.7 L1503.8,1474.7 L1505.8,1473.8 L1507.8,1472.8 L1509.8,1471.8 L1511.8,1470.8 L1513.8,1469.7 L1515.8,1468.6 L1517.8,1467.4 L1519.8,1466.1 L1521.8,1464.9 L1523.8,1463.5 L1525.8,1462.1 L1527.8,1460.7 L1529.8,1459.2 L1531.8,1457.6 L1533.8,1456.0 L1535.8,1454.2 L1537.8,1452.4 L1539.8,1450.5 L1541.8,1448.6 L1543.8,1446.5 L1545.8,1444.3 L1547.8,1442.0 L1549.8,1439.6 L1551.8,1437.1 L1553.8,1434.5 L1555.8,1431.7 L1557.8,1428.7 L1559.8,1425.6 L1561.8,1422.3 L1563.8,1418.9 L1565.8,1415.2 L1567.8,1411.3 L1569.8,1407.2 L1571.8,1402.9 L1573.8,1398.3 L1575.8,1393.4 L1577.8,1388.1 L1579.8,1382.6 L1581.8,1376.6 L1583.8,1370.3 L1585.8,1363.6 L1587.8,1356.3 L1589.8,1348.6 L1591.8,1340.2 L1593.8,1331.3 L1595.8,1321.7 L1597.8,1311.4 L1599.8,1300.2 L1601.8,1288.2 L1603.8,1275.2 L1605.8,1261.1 L1607.8,1245.8 L1609.8,1229.2 L1611.8,1211.2 L1613.8,1191.6 L1615.8,1170.3 L1617.8,1147.0 L1619.8,1121.6 L1621.8,1093.9 L1623.8,1063.7 L1625.8,1030.7 L1627.8,994.8 L1629.8,955.6 L1631.8,913.1 L1633.6,872.8 L1646.2,512.8 L1658.8,223.0 L1671.5,315.0 L1684.1,750.0 L1696.8,1100.1 L1697.8,1119.2 L1699.8,1153.2 L1701.8,1183.7 L1703.8,1211.1 L1705.8,1235.8 L1707.8,1257.9 L1709.8,1277.8 L1711.8,1295.8 L1713.8,1312.0 L1715.8,1326.6 L1717.8,1339.9 L1719.8,1351.9 L1721.8,1362.8 L1723.8,1372.6 L1725.8,1381.6 L1727.8,1389.8 L1729.8,1397.3 L1731.8,1404.2 L1733.8,1410.5 L1735.8,1416.3 L1737.8,1421.8 L1739.8,1426.8 L1741.8,1431.6 L1743.8,1436.2 L1745.8,1440.5 L1747.8,1444.5 L1749.8,1448.4 L1751.8,1452.1 L1753.8,1455.5 L1755.8,1458.7 L1757.8,1461.7 L1759.8,1464.5 L1761.8,1467.0 L1763.8,1469.5 L1765.8,1471.7 L1767.8,1473.8 L1769.8,1475.8 L1771.8,1477.6 L1773.8,1479.3 L1775.8,1480.9 L1777.8,1482.4 L1779.8,1483.9 L1781.8,1485.2 L1783.8,1486.4 L1785.8,1487.6 L1787.8,1488.7 L1789.8,1489.8 L1791.8,1490.8 L1793.8,1491.7 L1795.8,1492.6 L1797.8,1493.4 L1799.8,1494.2 L1801.8,1495.1 L1803.8,1495.9 L1805.8,1496.6 L1807.8,1497.3 L1809.8,1498.0 L1811.8,1498.7 L1813.8,1499.3 L1815.8,1499.9 L1817.8,1500.5 L1819.8,1501.1 L1821.8,1501.6 L1823.8,1502.1 L1825.8,1502.6 L1827.8,1503.1 L1829.8,1503.5 L1831.8,1504.0 L1833.8,1504.4 L1835.8,1504.8 L1837.8,1505.2 L1839.8,1505.6 L1841.8,1506.0 L1843.8,1506.3 L1845.8,1506.7 L1847.8,1507.0 L1849.8,1507.4 L1851.8,1507.6 L1853.8,1507.8 L1855.8,1508.0 L1857.8,1508.2 L1859.8,1508.4 L1861.8,1508.6 L1863.8,1508.7 L1865.8,1508.9 L1867.8,1509.1 L1869.8,1509.2 L1871.8,1509.4 L1873.8,1509.5 L1875.8,1509.6 L1877.8,1509.8 L1879.8,1509.9 L1881.8,1510.0 L1883.8,1510.1 L1885.8,1510.2 L1887.8,1510.3 L1889.8,1510.4 L1891.8,1510.5 L1893.8,1510.6 L1895.8,1510.7 L1897.8,1510.8 L1899.8,1510.9 L1901.8,1511.0 L1903.8,1511.1 L1905.8,1511.2 L1907.8,1511.3 L1909.8,1511.4 L1911.8,1511.5 L1913.8,1511.6 L1915.8,1511.7 L1917.8,1511.8 L1919.8,1511.9 L1921.8,1512.0 L1923.8,1512.1 L1925.8,1512.2 L1927.8,1512.3 L1929.8,1512.3 L1931.8,1512.4 L1933.8,1512.5 L1935.8,1512.6 L1937.8,1512.7 L1939.8,1512.7 L1941.8,1512.8 L1943.8,1512.9 L1945.8,1512.9 L1947.8,1513.0 L1949.8,1513.1 L1951.8,1513.1 L1953.8,1513.2 L1955.8,1513.3 L1957.8,1513.3 L1959.8,1513.4 L1961.8,1513.4 L1963.8,1513.5 L1965.8,1513.6 L1967.8,1513.6 L1969.8,1513.7 L1971.8,1513.7 L1973.8,1513.8 L1975.8,1513.8 L1977.8,1513.9 L1979.8,1513.9 L1981.8,1514.0 L1983.8,1514.0 L1985.8,1514.1 L1987.8,1514.1 L1989.8,1514.2 L1991.8,1514.2 L1993.8,1514.3 L1995.8,1514.3 L1997.8,1514.4 L1999.8,1514.4 L2001.8,1514.4 L2003.8,1514.4 L2005.8,1514.5 L2007.8,1514.5 L2009.8,1514.5 L2011.8,1514.5 L2013.8,1514.5 L2015.8,1514.6 L2017.8,1514.6 L2019.8,1514.6 L2021.8,1514.6 L2023.8,1514.6 L2025.8,1514.7 L2027.8,1514.7 L2029.8,1514.7 L2031.8,1514.7 L2033.8,1514.7 L2035.8,1514.7 L2037.8,1514.8 L2039.8,1514.8 L2041.8,1514.8 L2043.8,1514.8 L2045.8,1514.8 L2047.8,1514.8 L2049.8,1514.8 L2051.8,1514.8 L2053.8,1514.9 L2055.8,1514.9 L2057.8,1514.9 L2059.8,1514.9 L2061.8,1514.9 L2063.8,1514.9 L2065.8,1514.9 L2067.8,1514.9 L2069.8,1514.9 L2071.8,1515.0 L2073.8,1515.0 L2075.8,1515.0 L2077.8,1515.0 L2079.8,1515.0 L2081.8,1515.0 L2083.8,1515.0 L2085.8,1515.0 L2087.8,1515.0 L2089.8,1515.0 L2091.8,1515.0 L2093.8,1515.0 L2095.8,1515.1 L2097.8,1515.1 L2099.8,1515.1 L2101.8,1515.1 L2103.8,1515.1 L2105.8,1515.1 L2107.8,1515.1 L2109.8,1515.1 L2111.8,1515.1 L2113.8,1515.1 L2115.8,1515.1 L2117.8,1515.1 L2119.8,1515.1 L2121.8,1515.1 L2123.8,1515.1 L2125.8,1515.1 L2127.8,1515.2 L2129.8,1515.2 L2131.8,1515.2 L2133.8,1515.2 L2135.8,1515.2 L2137.8,1515.2 L2139.8,1515.2 L2141.8,1515.2 L2143.8,1515.2 L2145.8,1515.2 L2147.8,1515.2 L2149.8,1515.2 L2151.8,1515.2" stroke="#a86ee0"/>
</g>
<rect x="255.8" y="23.3" width="1896.2" height="1528.7" fill="none" stroke="#000" stroke-width="7.8"/>
<line x1="236.8" y1="1515.50" x2="255.8" y2="1515.50" stroke="#000" stroke-width="7.8"/>
<line x1="246.8" y1="1369.89" x2="255.8" y2="1369.89" stroke="#000" stroke-width="7.8"/>
<line x1="236.8" y1="1224.28" x2="255.8" y2="1224.28" stroke="#000" stroke-width="7.8"/>
<line x1="246.8" y1="1078.67" x2="255.8" y2="1078.67" stroke="#000" stroke-width="7.8"/>
<line x1="236.8" y1="933.06" x2="255.8" y2="933.06" stroke="#000" stroke-width="7.8"/>
<line x1="246.8" y1="787.45" x2="255.8" y2="787.45" stroke="#000" stroke-width="7.8"/>
<line x1="236.8" y1="641.84" x2="255.8" y2="641.84" stroke="#000" stroke-width="7.8"/>
<line x1="246.8" y1="496.23" x2="255.8" y2="496.23" stroke="#000" stroke-width="7.8"/>
<line x1="236.8" y1="350.62" x2="255.8" y2="350.62" stroke="#000" stroke-width="7.8"/>
<line x1="246.8" y1="205.01" x2="255.8" y2="205.01" stroke="#000" stroke-width="7.8"/>
<line x1="236.8" y1="59.40" x2="255.8" y2="59.40" stroke="#000" stroke-width="7.8"/>
<line x1="255.80" y1="1552.0" x2="255.80" y2="1561.0" stroke="#000" stroke-width="7.8"/>
<line x1="571.80" y1="1552.0" x2="571.80" y2="1570.0" stroke="#000" stroke-width="7.8"/>
<line x1="887.80" y1="1552.0" x2="887.80" y2="1561.0" stroke="#000" stroke-width="7.8"/>
<line x1="1203.80" y1="1552.0" x2="1203.80" y2="1570.0" stroke="#000" stroke-width="7.8"/>
<line x1="1519.80" y1="1552.0" x2="1519.80" y2="1561.0" stroke="#000" stroke-width="7.8"/>
<line x1="1835.80" y1="1552.0" x2="1835.80" y2="1570.0" stroke="#000" stroke-width="7.8"/>
<line x1="2151.80" y1="1552.0" x2="2151.80" y2="1561.0" stroke="#000" stroke-width="7.8"/>
<text x="218.5" y="86.5" text-anchor="end" font-size="76">1.0</text>
<text x="218.5" y="377.2" text-anchor="end" font-size="76">0.8</text>
<text x="218.5" y="664.3" text-anchor="end" font-size="76">0.6</text>
<text x="218.5" y="950.8" text-anchor="end" font-size="76">0.4</text>
<text x="218.5" y="1237.1" text-anchor="end" font-size="76">0.2</text>
<text x="218.5" y="1524.6" text-anchor="end" font-size="76">0.0</text>
<text x="573.6" y="1637.2" text-anchor="middle" font-size="75.5">1535</text>
<text x="1204.9" y="1636.8" text-anchor="middle" font-size="75.5">1540</text>
<text x="1834.0" y="1630.8" text-anchor="middle" font-size="75.5">1545</text>
<text x="1203.5" y="1712" text-anchor="middle" font-size="85.5">Wavelength (nm)</text>
<text transform="translate(81,753.5) rotate(-90)" x="0" y="0" text-anchor="middle" font-size="82.7">Transmission (a.u.)</text>
<line x1="306" y1="127.9" x2="407.3" y2="127.9" stroke="#4d4d4d" stroke-width="9"/>
<text x="451" y="145.7" font-size="57">Port A</text>
<line x1="306" y1="207.9" x2="407.3" y2="207.9" stroke="#ee3338" stroke-width="9"/>
<text x="451" y="227.3" font-size="57">Port B</text>
<line x1="306" y1="287.4" x2="407.3" y2="287.4" stroke="#1565e0" stroke-width="9"/>
<text x="451" y="307.9" font-size="57">Port C</text>
<line x1="306" y1="369.1" x2="407.3" y2="369.1" stroke="#2aa862" stroke-width="9"/>
<text x="451" y="387.7" font-size="57">Port D</text>
<line x1="306" y1="449.1" x2="407.3" y2="449.1" stroke="#a86ee0" stroke-width="9"/>
<text x="455.5" y="469.7" font-size="57">Port E</text>
</svg></div>
</body></html>
